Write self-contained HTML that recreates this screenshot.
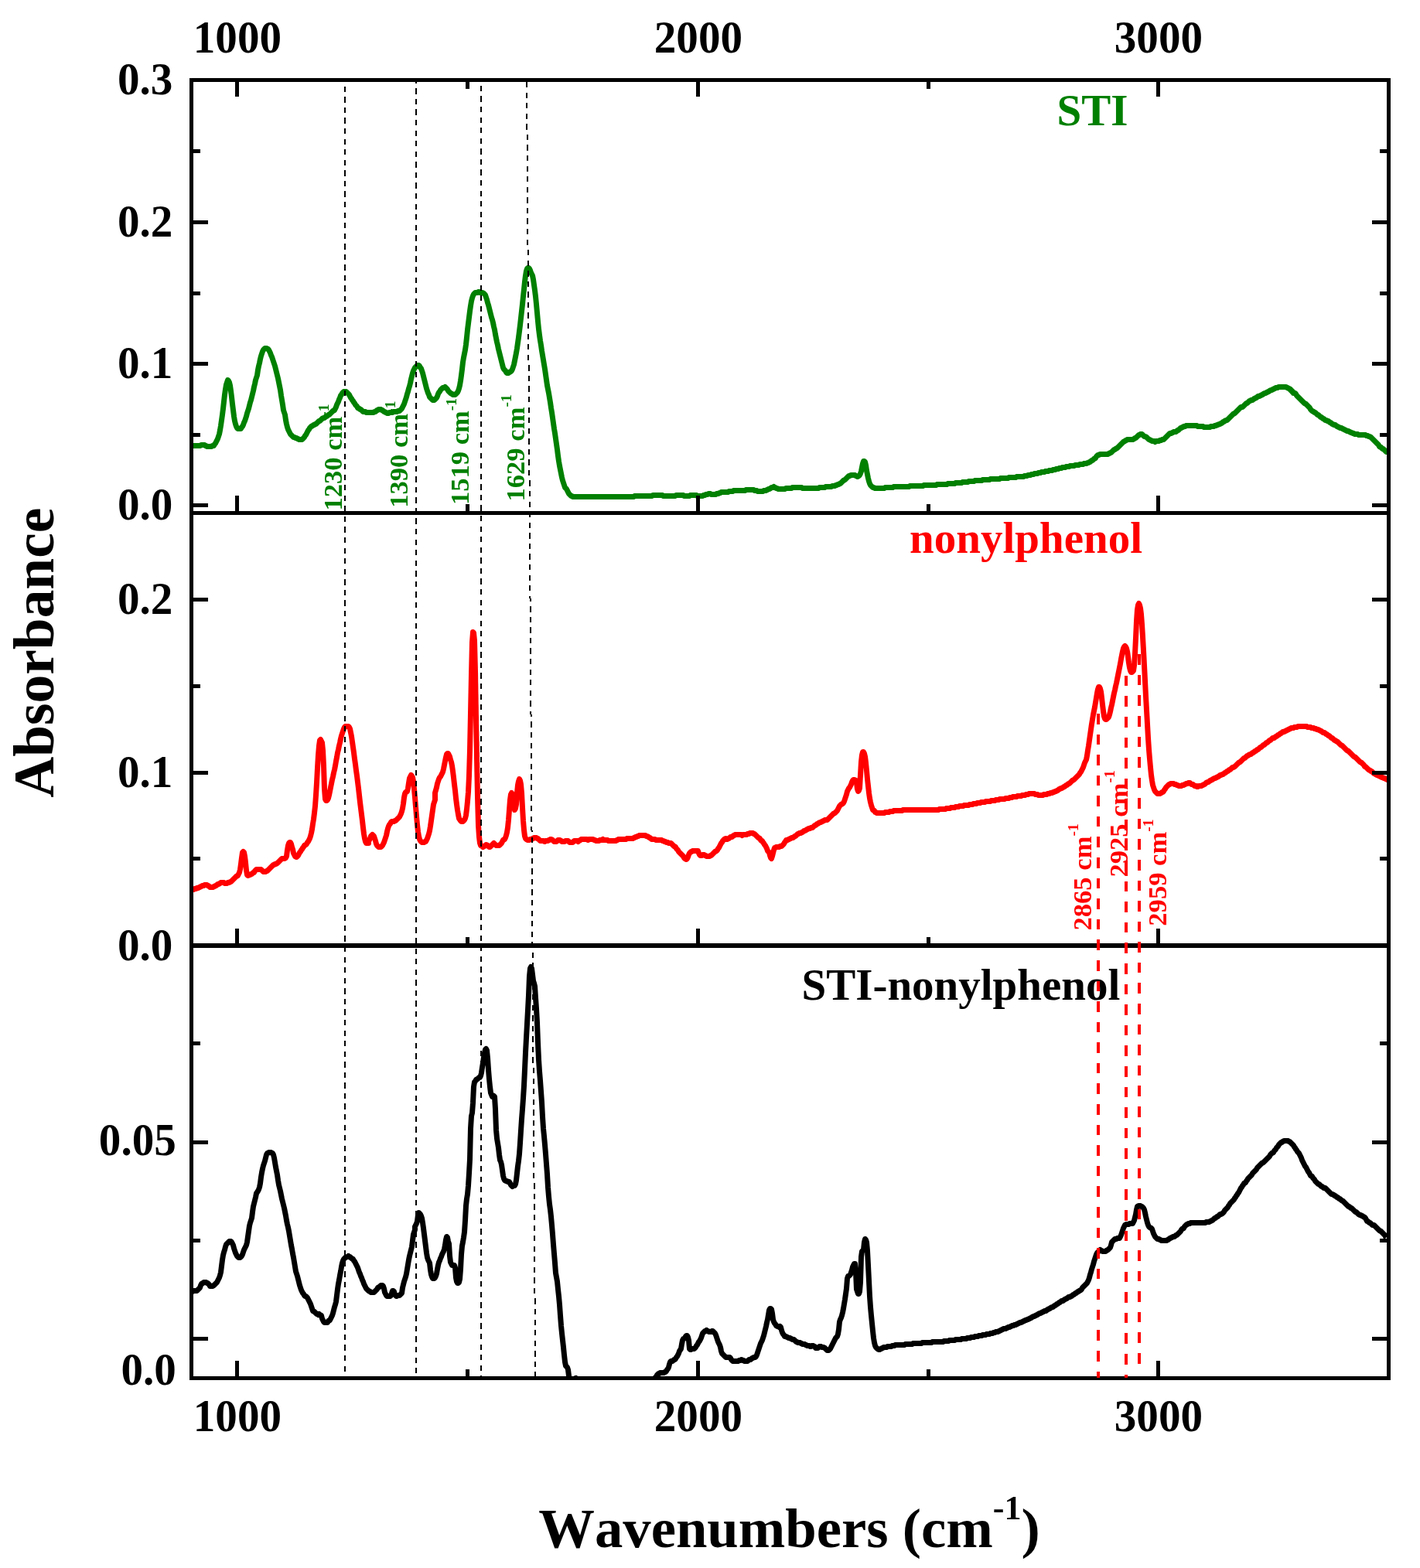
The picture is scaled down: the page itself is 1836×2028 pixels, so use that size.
<!DOCTYPE html>
<html lang="en"><head><meta charset="utf-8"><title>FTIR spectra: STI, nonylphenol, STI-nonylphenol</title>
<style>html,body{margin:0;padding:0;background:#fff}body{width:1836px;height:2028px;overflow:hidden}svg{display:block}text{font-family:"Liberation Serif","DejaVu Serif",serif;font-weight:bold;font-kerning:none;font-variant-ligatures:none}.tk{font-size:58px;fill:#000}.yl{text-anchor:end}.xl{text-anchor:middle}.pl{font-size:57px}.ann{font-size:34.6px}</style></head><body>
<svg width="1836" height="2028" viewBox="0 0 1836 2028" shape-rendering="crispEdges">
<rect x="0" y="0" width="1836" height="2028" fill="#fff"/>
<defs>
<clipPath id="c1"><rect x="247.5" y="103.5" width="1548.0" height="560.0"/></clipPath>
<clipPath id="c2"><rect x="247.5" y="663.5" width="1548.0" height="559.5"/></clipPath>
<clipPath id="c3"><rect x="247.5" y="1223.0" width="1548.0" height="559.5"/></clipPath>
<clipPath id="call"><rect x="247.5" y="103.5" width="1548.0" height="1679.0"/></clipPath>
</defs>
<path clip-path="url(#c1)" d="M248.5,576.5L249.5,576.5L250.5,576.5L251.5,576.5L252.5,576.5L253.5,576.5L254.5,576.5L255.5,576.5L256.5,576.5L257.5,576.5L258.5,576.5L260.5,575.5L261.5,575.5L262.5,575.5L263.5,575.5L264.5,575.5L265.5,576.5L266.5,576.5L267.5,577.5L269.5,577.5L270.5,577.5L271.5,577.5L272.5,577.5L273.5,577.5L274.5,576.5L276.5,576.5L277.5,574.5L278.5,573.5L279.5,571.5L280.5,569.5L281.5,567.5L282.5,564.5L283.5,561.5L284.5,556.5L285.5,550.5L286.5,543.5L287.5,536.5L288.5,528.5L289.5,519.5L290.5,510.5L291.5,503.5L292.5,497.5L293.5,494.5L294.5,491.5L295.5,492.5L296.5,494.5L297.5,498.5L298.5,505.5L299.5,513.5L300.5,522.5L301.5,530.5L302.5,538.5L303.5,544.5L304.5,548.5L305.5,551.5L306.5,553.5L307.5,554.5L308.5,554.5L310.5,554.5L311.5,554.5L312.5,552.5L313.5,551.5L314.5,549.5L315.5,546.5L316.5,544.5L317.5,541.5L318.5,538.5L319.5,534.5L320.5,531.5L321.5,528.5L322.5,524.5L323.5,520.5L324.5,517.5L325.5,513.5L326.5,509.5L327.5,505.5L328.5,500.5L329.5,496.5L330.5,491.5L332.5,485.5L333.5,478.5L334.5,473.5L335.5,469.5L336.5,464.5L337.5,460.5L338.5,457.5L339.5,454.5L340.5,452.5L341.5,451.5L342.5,450.5L343.5,450.5L344.5,450.5L346.5,451.5L347.5,452.5L348.5,454.5L349.5,456.5L350.5,459.5L351.5,461.5L352.5,464.5L353.5,467.5L354.5,470.5L355.5,473.5L356.5,477.5L357.5,481.5L358.5,485.5L359.5,489.5L360.5,494.5L361.5,499.5L362.5,504.5L363.5,511.5L364.5,517.5L365.5,523.5L366.5,530.5L368.5,536.5L369.5,543.5L370.5,548.5L371.5,552.5L372.5,555.5L373.5,557.5L374.5,559.5L375.5,561.5L376.5,562.5L377.5,563.5L378.5,564.5L379.5,565.5L380.5,565.5L382.5,566.5L383.5,566.5L384.5,567.5L385.5,567.5L386.5,568.5L387.5,568.5L388.5,568.5L390.5,568.5L391.5,567.5L392.5,566.5L393.5,565.5L394.5,563.5L395.5,562.5L396.5,560.5L397.5,558.5L398.5,556.5L399.5,555.5L400.5,553.5L401.5,552.5L402.5,551.5L404.5,550.5L405.5,549.5L406.5,549.5L407.5,548.5L408.5,548.5L409.5,547.5L410.5,546.5L411.5,545.5L412.5,544.5L413.5,544.5L414.5,543.5L415.5,542.5L416.5,541.5L418.5,540.5L419.5,540.5L420.5,539.5L421.5,538.5L422.5,538.5L423.5,537.5L424.5,536.5L425.5,536.5L426.5,535.5L427.5,534.5L428.5,533.5L429.5,532.5L430.5,531.5L432.5,530.5L433.5,528.5L434.5,526.5L435.5,523.5L436.5,521.5L437.5,519.5L438.5,516.5L439.5,514.5L440.5,511.5L441.5,510.5L442.5,508.5L443.5,507.5L444.5,506.5L446.5,506.5L447.5,506.5L448.5,507.5L449.5,508.5L450.5,509.5L451.5,510.5L452.5,512.5L453.5,514.5L454.5,515.5L455.5,517.5L456.5,518.5L457.5,520.5L458.5,521.5L459.5,523.5L460.5,524.5L461.5,525.5L462.5,527.5L464.5,528.5L465.5,529.5L466.5,529.5L467.5,530.5L468.5,531.5L469.5,532.5L470.5,532.5L472.5,532.5L473.5,533.5L474.5,533.5L475.5,533.5L476.5,533.5L477.5,533.5L478.5,533.5L479.5,533.5L480.5,533.5L481.5,533.5L482.5,533.5L484.5,532.5L485.5,532.5L486.5,531.5L487.5,530.5L488.5,530.5L489.5,529.5L490.5,529.5L492.5,529.5L493.5,530.5L494.5,530.5L495.5,531.5L496.5,532.5L497.5,532.5L498.5,533.5L499.5,533.5L500.5,534.5L502.5,534.5L503.5,533.5L504.5,533.5L505.5,533.5L506.5,533.5L507.5,533.5L508.5,532.5L509.5,532.5L510.5,532.5L511.5,532.5L512.5,532.5L513.5,532.5L514.5,531.5L516.5,531.5L517.5,530.5L518.5,529.5L519.5,528.5L520.5,526.5L521.5,524.5L522.5,522.5L523.5,519.5L524.5,516.5L525.5,513.5L526.5,509.5L527.5,506.5L528.5,502.5L529.5,499.5L530.5,495.5L531.5,490.5L532.5,486.5L533.5,482.5L534.5,479.5L535.5,477.5L536.5,475.5L538.5,473.5L539.5,472.5L540.5,472.5L541.5,472.5L542.5,473.5L543.5,475.5L544.5,476.5L545.5,479.5L546.5,482.5L547.5,486.5L548.5,490.5L549.5,494.5L550.5,498.5L551.5,502.5L552.5,505.5L553.5,508.5L554.5,510.5L555.5,513.5L556.5,514.5L558.5,516.5L559.5,517.5L560.5,517.5L561.5,517.5L562.5,516.5L563.5,515.5L564.5,514.5L565.5,512.5L566.5,509.5L567.5,507.5L568.5,506.5L569.5,504.5L570.5,503.5L571.5,502.5L572.5,501.5L574.5,501.5L575.5,500.5L576.5,501.5L577.5,502.5L578.5,503.5L579.5,505.5L580.5,506.5L581.5,507.5L582.5,508.5L584.5,509.5L585.5,510.5L586.5,510.5L587.5,510.5L588.5,510.5L589.5,509.5L590.5,508.5L591.5,507.5L592.5,505.5L593.5,502.5L594.5,498.5L595.5,492.5L596.5,485.5L597.5,477.5L598.5,468.5L599.5,462.5L600.5,457.5L601.5,452.5L602.5,445.5L603.5,436.5L604.5,426.5L605.5,418.5L606.5,410.5L607.5,402.5L608.5,395.5L609.5,389.5L610.5,385.5L611.5,382.5L612.5,380.5L613.5,379.5L614.5,378.5L616.5,378.5L617.5,378.5L618.5,377.5L619.5,377.5L620.5,378.5L621.5,378.5L622.5,378.5L623.5,378.5L625.5,379.5L626.5,380.5L627.5,381.5L628.5,384.5L629.5,387.5L630.5,391.5L631.5,394.5L632.5,398.5L633.5,402.5L634.5,406.5L635.5,410.5L636.5,413.5L637.5,417.5L638.5,422.5L639.5,426.5L640.5,432.5L641.5,437.5L642.5,442.5L643.5,446.5L644.5,451.5L645.5,455.5L646.5,459.5L647.5,463.5L648.5,467.5L649.5,471.5L650.5,475.5L651.5,477.5L653.5,479.5L654.5,481.5L655.5,482.5L656.5,482.5L657.5,482.5L658.5,481.5L660.5,480.5L661.5,479.5L662.5,477.5L663.5,474.5L664.5,471.5L665.5,466.5L666.5,461.5L667.5,456.5L668.5,450.5L669.5,443.5L670.5,436.5L671.5,428.5L672.5,420.5L673.5,411.5L674.5,402.5L675.5,393.5L676.5,383.5L677.5,374.5L678.5,364.5L679.5,356.5L680.5,350.5L681.5,347.5L682.5,346.5L683.5,346.5L684.5,347.5L685.5,349.5L686.5,352.5L688.5,356.5L689.5,361.5L690.5,368.5L691.5,375.5L692.5,383.5L693.5,393.5L694.5,404.5L695.5,415.5L696.5,425.5L697.5,433.5L698.5,440.5L699.5,446.5L700.5,453.5L701.5,459.5L702.5,465.5L703.5,471.5L704.5,477.5L705.5,484.5L706.5,491.5L707.5,498.5L708.5,503.5L709.5,508.5L710.5,514.5L711.5,520.5L712.5,527.5L713.5,533.5L714.5,540.5L715.5,547.5L716.5,554.5L717.5,560.5L718.5,567.5L719.5,574.5L720.5,581.5L721.5,589.5L722.5,596.5L723.5,602.5L724.5,607.5L725.5,612.5L726.5,617.5L727.5,621.5L728.5,624.5L729.5,627.5L730.5,630.5L732.5,632.5L733.5,634.5L734.5,636.5L735.5,638.5L736.5,639.5L737.5,640.5L738.5,641.5L739.5,641.5L740.5,642.5L742.5,642.5L743.5,642.5L744.5,642.5L745.5,642.5L746.5,642.5L747.5,642.5L748.5,642.5L749.5,642.5L750.5,642.5L751.5,642.5L752.5,642.5L754.5,642.5L755.5,642.5L756.5,642.5L757.5,642.5L758.5,642.5L759.5,642.5L760.5,642.5L761.5,642.5L762.5,642.5L764.5,642.5L765.5,642.5L766.5,642.5L767.5,642.5L768.5,642.5L769.5,642.5L770.5,642.5L771.5,642.5L772.5,642.5L773.5,642.5L775.5,642.5L776.5,642.5L777.5,642.5L778.5,642.5L779.5,642.5L780.5,642.5L781.5,642.5L782.5,642.5L783.5,642.5L784.5,642.5L785.5,642.5L786.5,642.5L787.5,642.5L788.5,642.5L789.5,642.5L790.5,642.5L791.5,642.5L792.5,642.5L793.5,642.5L794.5,642.5L795.5,642.5L796.5,642.5L797.5,642.5L798.5,642.5L799.5,642.5L800.5,642.5L801.5,642.5L802.5,642.5L803.5,642.5L804.5,642.5L805.5,642.5L806.5,642.5L807.5,642.5L808.5,642.5L809.5,642.5L810.5,642.5L811.5,642.5L812.5,642.5L813.5,642.5L814.5,642.5L815.5,642.5L816.5,642.5L817.5,642.5L818.5,642.5L819.5,642.5L820.5,641.5L821.5,641.5L822.5,641.5L823.5,641.5L824.5,641.5L825.5,641.5L826.5,641.5L827.5,641.5L828.5,641.5L829.5,641.5L830.5,641.5L831.5,641.5L832.5,641.5L833.5,641.5L834.5,641.5L836.5,641.5L837.5,641.5L838.5,641.5L839.5,641.5L840.5,641.5L841.5,641.5L842.5,641.5L844.5,640.5L845.5,640.5L846.5,640.5L847.5,640.5L848.5,640.5L849.5,640.5L850.5,640.5L851.5,640.5L852.5,640.5L854.5,640.5L855.5,640.5L856.5,640.5L857.5,641.5L858.5,641.5L859.5,641.5L860.5,641.5L861.5,641.5L862.5,641.5L863.5,641.5L865.5,641.5L866.5,641.5L867.5,641.5L868.5,641.5L869.5,641.5L870.5,641.5L871.5,641.5L872.5,641.5L874.5,640.5L875.5,640.5L876.5,640.5L877.5,640.5L878.5,640.5L879.5,640.5L880.5,640.5L881.5,640.5L883.5,640.5L884.5,641.5L885.5,641.5L886.5,641.5L887.5,641.5L888.5,641.5L889.5,641.5L890.5,641.5L891.5,641.5L892.5,640.5L893.5,640.5L895.5,640.5L896.5,640.5L897.5,640.5L898.5,640.5L899.5,640.5L900.5,640.5L901.5,641.5L902.5,641.5L903.5,641.5L904.5,641.5L906.5,641.5L907.5,641.5L908.5,641.5L909.5,640.5L910.5,640.5L911.5,640.5L912.5,639.5L913.5,639.5L914.5,639.5L916.5,638.5L917.5,638.5L918.5,638.5L919.5,639.5L920.5,639.5L921.5,639.5L922.5,639.5L924.5,639.5L925.5,639.5L926.5,638.5L927.5,638.5L928.5,638.5L930.5,637.5L931.5,637.5L932.5,636.5L933.5,636.5L934.5,636.5L935.5,636.5L937.5,636.5L938.5,636.5L939.5,636.5L940.5,636.5L941.5,636.5L942.5,635.5L943.5,635.5L944.5,635.5L946.5,635.5L947.5,635.5L948.5,634.5L949.5,634.5L950.5,634.5L951.5,634.5L952.5,634.5L953.5,634.5L954.5,634.5L956.5,634.5L957.5,634.5L958.5,634.5L959.5,634.5L960.5,634.5L961.5,634.5L962.5,634.5L963.5,634.5L964.5,633.5L965.5,633.5L966.5,633.5L968.5,633.5L969.5,633.5L970.5,633.5L971.5,633.5L972.5,633.5L973.5,633.5L974.5,633.5L975.5,634.5L976.5,634.5L978.5,634.5L979.5,635.5L980.5,635.5L981.5,635.5L982.5,635.5L983.5,635.5L984.5,635.5L985.5,635.5L986.5,635.5L987.5,634.5L988.5,634.5L990.5,634.5L991.5,633.5L992.5,633.5L993.5,632.5L994.5,632.5L996.5,631.5L997.5,630.5L998.5,630.5L999.5,630.5L1000.5,629.5L1001.5,630.5L1002.5,630.5L1003.5,631.5L1004.5,631.5L1006.5,632.5L1007.5,632.5L1008.5,632.5L1009.5,632.5L1010.5,632.5L1011.5,632.5L1012.5,632.5L1013.5,632.5L1014.5,632.5L1016.5,631.5L1017.5,631.5L1018.5,631.5L1019.5,631.5L1020.5,631.5L1021.5,631.5L1022.5,631.5L1023.5,631.5L1024.5,630.5L1026.5,630.5L1027.5,630.5L1028.5,630.5L1029.5,630.5L1030.5,630.5L1032.5,630.5L1033.5,630.5L1034.5,630.5L1035.5,630.5L1036.5,630.5L1037.5,631.5L1039.5,631.5L1040.5,631.5L1041.5,631.5L1042.5,631.5L1043.5,631.5L1044.5,631.5L1045.5,631.5L1046.5,631.5L1048.5,631.5L1049.5,631.5L1050.5,631.5L1051.5,631.5L1052.5,631.5L1053.5,631.5L1054.5,631.5L1055.5,631.5L1056.5,631.5L1057.5,631.5L1058.5,631.5L1059.5,630.5L1060.5,630.5L1061.5,630.5L1062.5,630.5L1063.5,630.5L1064.5,630.5L1066.5,630.5L1067.5,629.5L1068.5,629.5L1069.5,629.5L1070.5,629.5L1071.5,629.5L1072.5,629.5L1073.5,629.5L1074.5,629.5L1076.5,628.5L1077.5,628.5L1078.5,628.5L1079.5,628.5L1080.5,627.5L1081.5,627.5L1083.5,626.5L1084.5,626.5L1085.5,625.5L1086.5,625.5L1087.5,624.5L1088.5,623.5L1089.5,622.5L1090.5,621.5L1092.5,620.5L1093.5,619.5L1094.5,618.5L1095.5,617.5L1096.5,616.5L1097.5,615.5L1098.5,615.5L1100.5,614.5L1101.5,614.5L1102.5,614.5L1103.5,614.5L1104.5,614.5L1105.5,614.5L1106.5,615.5L1107.5,615.5L1108.5,616.5L1110.5,615.5L1111.5,614.5L1112.5,612.5L1113.5,609.5L1114.5,604.5L1115.5,599.5L1116.5,596.5L1117.5,596.5L1118.5,597.5L1119.5,601.5L1120.5,608.5L1121.5,613.5L1122.5,618.5L1123.5,622.5L1124.5,625.5L1125.5,627.5L1126.5,628.5L1127.5,629.5L1128.5,630.5L1129.5,630.5L1131.5,631.5L1132.5,631.5L1133.5,631.5L1134.5,631.5L1135.5,631.5L1136.5,631.5L1137.5,631.5L1138.5,631.5L1139.5,631.5L1140.5,631.5L1142.5,631.5L1143.5,631.5L1144.5,630.5L1145.5,630.5L1146.5,630.5L1147.5,630.5L1148.5,630.5L1150.5,630.5L1151.5,630.5L1152.5,630.5L1153.5,630.5L1154.5,630.5L1155.5,629.5L1156.5,629.5L1157.5,629.5L1158.5,629.5L1159.5,629.5L1160.5,629.5L1162.5,629.5L1163.5,629.5L1164.5,629.5L1165.5,629.5L1166.5,629.5L1167.5,629.5L1168.5,629.5L1170.5,629.5L1171.5,629.5L1172.5,629.5L1173.5,629.5L1174.5,629.5L1175.5,629.5L1176.5,628.5L1177.5,628.5L1178.5,628.5L1179.5,628.5L1180.5,628.5L1181.5,628.5L1182.5,628.5L1183.5,628.5L1184.5,628.5L1185.5,628.5L1186.5,628.5L1187.5,628.5L1188.5,628.5L1189.5,628.5L1190.5,628.5L1191.5,628.5L1192.5,628.5L1193.5,628.5L1194.5,627.5L1195.5,627.5L1196.5,627.5L1197.5,627.5L1198.5,627.5L1199.5,627.5L1200.5,627.5L1201.5,627.5L1202.5,627.5L1203.5,627.5L1204.5,627.5L1205.5,627.5L1206.5,627.5L1207.5,627.5L1208.5,627.5L1209.5,627.5L1210.5,627.5L1211.5,626.5L1212.5,626.5L1213.5,626.5L1214.5,626.5L1215.5,626.5L1216.5,626.5L1217.5,626.5L1218.5,626.5L1219.5,626.5L1220.5,626.5L1221.5,626.5L1222.5,626.5L1223.5,626.5L1224.5,626.5L1225.5,625.5L1226.5,625.5L1227.5,625.5L1228.5,625.5L1229.5,625.5L1230.5,625.5L1231.5,625.5L1232.5,625.5L1233.5,625.5L1234.5,625.5L1235.5,624.5L1236.5,624.5L1237.5,624.5L1238.5,624.5L1239.5,624.5L1240.5,624.5L1241.5,624.5L1242.5,624.5L1243.5,624.5L1244.5,623.5L1245.5,623.5L1246.5,623.5L1247.5,623.5L1248.5,623.5L1249.5,623.5L1250.5,623.5L1251.5,623.5L1252.5,622.5L1253.5,622.5L1254.5,622.5L1255.5,622.5L1256.5,622.5L1257.5,622.5L1258.5,622.5L1259.5,622.5L1260.5,621.5L1261.5,621.5L1262.5,621.5L1263.5,621.5L1264.5,621.5L1265.5,621.5L1266.5,621.5L1267.5,621.5L1268.5,621.5L1269.5,621.5L1270.5,620.5L1271.5,620.5L1272.5,620.5L1273.5,620.5L1274.5,620.5L1275.5,620.5L1276.5,620.5L1277.5,620.5L1278.5,620.5L1279.5,620.5L1280.5,619.5L1281.5,619.5L1282.5,619.5L1283.5,619.5L1284.5,619.5L1285.5,619.5L1286.5,619.5L1287.5,619.5L1288.5,619.5L1289.5,619.5L1290.5,619.5L1291.5,619.5L1292.5,619.5L1293.5,618.5L1294.5,618.5L1295.5,618.5L1296.5,618.5L1297.5,618.5L1298.5,618.5L1299.5,618.5L1300.5,618.5L1301.5,618.5L1302.5,618.5L1303.5,618.5L1304.5,617.5L1305.5,617.5L1306.5,617.5L1308.5,617.5L1309.5,617.5L1310.5,617.5L1311.5,617.5L1312.5,617.5L1313.5,617.5L1314.5,616.5L1315.5,616.5L1317.5,616.5L1318.5,616.5L1319.5,616.5L1320.5,616.5L1321.5,616.5L1322.5,616.5L1323.5,616.5L1324.5,615.5L1325.5,615.5L1326.5,615.5L1327.5,615.5L1329.5,614.5L1330.5,614.5L1331.5,614.5L1332.5,614.5L1333.5,613.5L1334.5,613.5L1335.5,613.5L1336.5,613.5L1337.5,612.5L1339.5,612.5L1340.5,612.5L1341.5,612.5L1342.5,611.5L1343.5,611.5L1345.5,611.5L1346.5,610.5L1347.5,610.5L1348.5,610.5L1350.5,610.5L1351.5,609.5L1352.5,609.5L1353.5,609.5L1355.5,609.5L1356.5,608.5L1357.5,608.5L1358.5,608.5L1360.5,608.5L1361.5,607.5L1362.5,607.5L1363.5,607.5L1364.5,607.5L1365.5,606.5L1366.5,606.5L1367.5,606.5L1368.5,606.5L1369.5,605.5L1370.5,605.5L1371.5,605.5L1372.5,605.5L1373.5,604.5L1374.5,604.5L1376.5,604.5L1377.5,604.5L1378.5,603.5L1379.5,603.5L1380.5,603.5L1381.5,603.5L1382.5,603.5L1383.5,602.5L1384.5,602.5L1385.5,602.5L1386.5,602.5L1387.5,602.5L1388.5,602.5L1390.5,601.5L1391.5,601.5L1392.5,601.5L1393.5,601.5L1394.5,601.5L1396.5,600.5L1397.5,600.5L1398.5,600.5L1399.5,600.5L1400.5,600.5L1401.5,599.5L1402.5,599.5L1403.5,599.5L1404.5,599.5L1406.5,598.5L1407.5,598.5L1408.5,597.5L1409.5,597.5L1410.5,596.5L1411.5,595.5L1412.5,595.5L1413.5,594.5L1414.5,593.5L1416.5,592.5L1417.5,590.5L1418.5,589.5L1419.5,588.5L1420.5,588.5L1422.5,587.5L1423.5,587.5L1424.5,587.5L1425.5,587.5L1426.5,587.5L1427.5,587.5L1428.5,587.5L1429.5,587.5L1430.5,587.5L1432.5,587.5L1433.5,586.5L1434.5,586.5L1435.5,585.5L1436.5,585.5L1437.5,584.5L1438.5,583.5L1439.5,582.5L1440.5,581.5L1441.5,581.5L1442.5,580.5L1444.5,579.5L1445.5,578.5L1446.5,577.5L1447.5,576.5L1448.5,575.5L1449.5,574.5L1450.5,573.5L1451.5,572.5L1452.5,571.5L1454.5,570.5L1455.5,569.5L1456.5,569.5L1457.5,568.5L1458.5,568.5L1459.5,568.5L1460.5,568.5L1461.5,568.5L1462.5,568.5L1463.5,568.5L1464.5,568.5L1466.5,567.5L1467.5,566.5L1468.5,566.5L1469.5,565.5L1470.5,564.5L1471.5,563.5L1472.5,562.5L1473.5,562.5L1474.5,561.5L1475.5,561.5L1476.5,561.5L1477.5,562.5L1478.5,563.5L1479.5,564.5L1480.5,564.5L1482.5,565.5L1483.5,566.5L1484.5,567.5L1485.5,568.5L1486.5,568.5L1487.5,569.5L1488.5,569.5L1489.5,570.5L1491.5,570.5L1492.5,570.5L1493.5,571.5L1494.5,570.5L1495.5,570.5L1496.5,570.5L1497.5,570.5L1498.5,570.5L1499.5,569.5L1500.5,569.5L1501.5,569.5L1502.5,568.5L1504.5,568.5L1505.5,567.5L1506.5,566.5L1507.5,565.5L1508.5,564.5L1509.5,563.5L1510.5,562.5L1511.5,561.5L1512.5,560.5L1514.5,560.5L1515.5,559.5L1516.5,559.5L1517.5,558.5L1518.5,558.5L1520.5,558.5L1521.5,557.5L1522.5,556.5L1523.5,556.5L1524.5,555.5L1525.5,554.5L1526.5,553.5L1527.5,553.5L1528.5,552.5L1529.5,552.5L1530.5,551.5L1532.5,551.5L1533.5,550.5L1534.5,550.5L1535.5,550.5L1536.5,550.5L1537.5,550.5L1538.5,550.5L1539.5,550.5L1540.5,550.5L1542.5,550.5L1543.5,550.5L1544.5,550.5L1545.5,550.5L1546.5,550.5L1547.5,550.5L1548.5,551.5L1549.5,551.5L1551.5,551.5L1552.5,551.5L1553.5,551.5L1554.5,551.5L1555.5,551.5L1556.5,552.5L1557.5,552.5L1558.5,552.5L1559.5,552.5L1560.5,552.5L1561.5,552.5L1562.5,552.5L1563.5,552.5L1564.5,552.5L1565.5,551.5L1566.5,551.5L1567.5,551.5L1569.5,551.5L1570.5,550.5L1571.5,550.5L1572.5,550.5L1573.5,549.5L1574.5,549.5L1576.5,548.5L1577.5,548.5L1578.5,547.5L1579.5,547.5L1580.5,546.5L1581.5,545.5L1582.5,545.5L1583.5,544.5L1585.5,543.5L1586.5,543.5L1587.5,542.5L1588.5,541.5L1589.5,540.5L1590.5,539.5L1591.5,538.5L1592.5,537.5L1593.5,536.5L1594.5,535.5L1596.5,534.5L1597.5,533.5L1598.5,532.5L1599.5,531.5L1600.5,530.5L1601.5,529.5L1602.5,528.5L1603.5,527.5L1604.5,526.5L1606.5,526.5L1607.5,525.5L1608.5,524.5L1609.5,523.5L1610.5,522.5L1611.5,521.5L1612.5,521.5L1613.5,520.5L1614.5,519.5L1615.5,518.5L1616.5,518.5L1617.5,517.5L1619.5,517.5L1620.5,516.5L1621.5,515.5L1622.5,515.5L1623.5,514.5L1624.5,514.5L1625.5,513.5L1626.5,512.5L1628.5,512.5L1629.5,511.5L1630.5,511.5L1631.5,510.5L1632.5,510.5L1633.5,509.5L1635.5,508.5L1636.5,508.5L1637.5,507.5L1638.5,507.5L1639.5,506.5L1640.5,506.5L1641.5,505.5L1643.5,504.5L1644.5,504.5L1645.5,503.5L1646.5,503.5L1647.5,502.5L1648.5,502.5L1649.5,501.5L1650.5,501.5L1651.5,501.5L1653.5,500.5L1654.5,500.5L1655.5,500.5L1656.5,500.5L1658.5,500.5L1660.5,500.5L1662.5,500.5L1664.5,501.5L1666.5,502.5L1668.5,503.5L1668.5,504.5L1670.5,505.5L1670.5,506.5L1672.5,507.5L1672.5,508.5L1674.5,508.5L1675.5,509.5L1676.5,511.5L1677.5,512.5L1678.5,513.5L1679.5,514.5L1680.5,515.5L1681.5,516.5L1682.5,517.5L1683.5,518.5L1684.5,519.5L1685.5,520.5L1686.5,521.5L1688.5,522.5L1689.5,523.5L1690.5,524.5L1691.5,525.5L1692.5,526.5L1693.5,527.5L1694.5,529.5L1695.5,530.5L1696.5,531.5L1698.5,532.5L1699.5,533.5L1700.5,533.5L1701.5,534.5L1702.5,535.5L1703.5,536.5L1704.5,536.5L1705.5,537.5L1706.5,538.5L1707.5,539.5L1708.5,539.5L1709.5,540.5L1710.5,541.5L1711.5,541.5L1712.5,542.5L1713.5,543.5L1714.5,543.5L1716.5,544.5L1717.5,544.5L1718.5,545.5L1719.5,546.5L1720.5,546.5L1721.5,547.5L1722.5,548.5L1723.5,548.5L1724.5,549.5L1726.5,549.5L1727.5,550.5L1728.5,551.5L1729.5,551.5L1730.5,552.5L1731.5,552.5L1732.5,553.5L1734.5,553.5L1735.5,554.5L1736.5,554.5L1737.5,555.5L1738.5,555.5L1739.5,556.5L1740.5,556.5L1741.5,557.5L1743.5,557.5L1744.5,558.5L1745.5,558.5L1746.5,559.5L1747.5,559.5L1749.5,560.5L1750.5,560.5L1751.5,561.5L1752.5,561.5L1753.5,561.5L1754.5,561.5L1755.5,561.5L1756.5,562.5L1758.5,562.5L1759.5,562.5L1760.5,562.5L1761.5,562.5L1762.5,562.5L1763.5,562.5L1765.5,562.5L1766.5,563.5L1767.5,563.5L1768.5,563.5L1769.5,564.5L1770.5,564.5L1772.5,565.5L1773.5,566.5L1774.5,567.5L1775.5,568.5L1776.5,569.5L1777.5,570.5L1778.5,571.5L1779.5,572.5L1780.5,573.5L1781.5,574.5L1782.5,575.5L1783.5,577.5L1785.5,578.5L1786.5,579.5L1787.5,580.5L1788.5,580.5L1789.5,581.5L1790.5,582.5L1791.5,583.5L1792.5,584.5L1794.5,584.5" fill="none" stroke="#008000" stroke-width="7" stroke-linejoin="round" stroke-linecap="butt" shape-rendering="geometricPrecision"/>
<path clip-path="url(#c2)" d="M248.5,1150.5L249.5,1150.5L250.5,1150.5L251.5,1149.5L252.5,1149.5L253.5,1149.5L254.5,1148.5L256.5,1148.5L257.5,1147.5L258.5,1147.5L259.5,1146.5L260.5,1146.5L261.5,1145.5L262.5,1145.5L263.5,1145.5L264.5,1144.5L265.5,1144.5L267.5,1144.5L268.5,1145.5L269.5,1145.5L270.5,1146.5L271.5,1147.5L272.5,1147.5L273.5,1147.5L275.5,1147.5L276.5,1146.5L277.5,1146.5L278.5,1145.5L279.5,1145.5L280.5,1144.5L281.5,1143.5L282.5,1143.5L284.5,1142.5L285.5,1141.5L286.5,1141.5L287.5,1141.5L288.5,1141.5L289.5,1141.5L290.5,1142.5L291.5,1142.5L292.5,1142.5L293.5,1142.5L294.5,1141.5L296.5,1141.5L297.5,1140.5L298.5,1140.5L299.5,1139.5L300.5,1138.5L301.5,1137.5L302.5,1136.5L303.5,1135.5L304.5,1134.5L305.5,1133.5L307.5,1132.5L308.5,1130.5L309.5,1128.5L310.5,1124.5L311.5,1117.5L312.5,1109.5L313.5,1102.5L314.5,1101.5L315.5,1102.5L316.5,1107.5L317.5,1115.5L318.5,1125.5L319.5,1131.5L320.5,1132.5L322.5,1131.5L323.5,1131.5L324.5,1130.5L325.5,1130.5L326.5,1129.5L327.5,1128.5L328.5,1128.5L329.5,1126.5L330.5,1125.5L331.5,1124.5L332.5,1124.5L333.5,1124.5L334.5,1124.5L336.5,1124.5L337.5,1124.5L338.5,1125.5L339.5,1126.5L340.5,1127.5L341.5,1127.5L342.5,1127.5L343.5,1127.5L344.5,1126.5L345.5,1126.5L346.5,1125.5L348.5,1123.5L349.5,1122.5L350.5,1121.5L351.5,1120.5L352.5,1119.5L353.5,1118.5L354.5,1118.5L355.5,1117.5L356.5,1117.5L358.5,1116.5L359.5,1115.5L360.5,1114.5L361.5,1113.5L362.5,1112.5L363.5,1111.5L364.5,1110.5L365.5,1110.5L366.5,1110.5L367.5,1110.5L369.5,1109.5L370.5,1107.5L371.5,1099.5L372.5,1093.5L373.5,1090.5L374.5,1089.5L375.5,1089.5L376.5,1091.5L377.5,1095.5L378.5,1098.5L379.5,1103.5L380.5,1105.5L381.5,1107.5L383.5,1108.5L384.5,1107.5L385.5,1106.5L386.5,1104.5L387.5,1102.5L388.5,1101.5L389.5,1099.5L390.5,1098.5L391.5,1096.5L392.5,1095.5L393.5,1093.5L395.5,1092.5L396.5,1091.5L397.5,1089.5L398.5,1088.5L399.5,1086.5L400.5,1084.5L401.5,1081.5L402.5,1077.5L403.5,1072.5L404.5,1065.5L405.5,1059.5L406.5,1051.5L407.5,1042.5L408.5,1028.5L409.5,1012.5L410.5,993.5L411.5,976.5L412.5,964.5L413.5,957.5L414.5,956.5L416.5,960.5L417.5,970.5L418.5,990.5L419.5,1020.5L420.5,1033.5L421.5,1035.5L422.5,1035.5L423.5,1034.5L424.5,1032.5L425.5,1028.5L426.5,1023.5L427.5,1018.5L428.5,1013.5L429.5,1008.5L430.5,1004.5L431.5,999.5L432.5,995.5L433.5,990.5L434.5,984.5L435.5,979.5L436.5,973.5L437.5,969.5L438.5,964.5L439.5,960.5L440.5,955.5L441.5,951.5L442.5,948.5L443.5,945.5L444.5,942.5L445.5,940.5L446.5,939.5L448.5,939.5L449.5,939.5L450.5,939.5L451.5,940.5L452.5,942.5L453.5,947.5L454.5,952.5L455.5,959.5L456.5,966.5L457.5,973.5L458.5,981.5L459.5,988.5L460.5,996.5L461.5,1003.5L462.5,1011.5L463.5,1019.5L464.5,1028.5L465.5,1037.5L466.5,1045.5L467.5,1053.5L468.5,1061.5L469.5,1070.5L470.5,1078.5L471.5,1084.5L472.5,1088.5L473.5,1090.5L474.5,1090.5L476.5,1090.5L476.5,1088.5L478.5,1084.5L479.5,1081.5L480.5,1080.5L481.5,1079.5L482.5,1080.5L483.5,1081.5L484.5,1084.5L485.5,1087.5L486.5,1091.5L487.5,1093.5L488.5,1094.5L489.5,1095.5L491.5,1095.5L492.5,1095.5L493.5,1094.5L494.5,1093.5L495.5,1091.5L496.5,1089.5L497.5,1086.5L498.5,1083.5L499.5,1080.5L500.5,1075.5L501.5,1071.5L502.5,1068.5L503.5,1066.5L504.5,1065.5L505.5,1063.5L506.5,1062.5L508.5,1062.5L509.5,1062.5L510.5,1061.5L511.5,1061.5L512.5,1060.5L513.5,1059.5L514.5,1058.5L516.5,1056.5L517.5,1054.5L518.5,1052.5L519.5,1049.5L520.5,1045.5L521.5,1039.5L522.5,1031.5L523.5,1026.5L524.5,1024.5L525.5,1024.5L526.5,1023.5L527.5,1019.5L528.5,1012.5L529.5,1006.5L531.5,1002.5L532.5,1003.5L533.5,1005.5L534.5,1010.5L535.5,1020.5L536.5,1031.5L537.5,1043.5L538.5,1055.5L539.5,1066.5L540.5,1075.5L541.5,1081.5L542.5,1085.5L543.5,1087.5L544.5,1088.5L545.5,1089.5L546.5,1089.5L547.5,1089.5L548.5,1089.5L549.5,1088.5L550.5,1088.5L551.5,1086.5L552.5,1084.5L553.5,1081.5L554.5,1078.5L555.5,1074.5L556.5,1068.5L557.5,1061.5L558.5,1054.5L559.5,1047.5L560.5,1040.5L562.5,1034.5L562.5,1025.5L564.5,1018.5L565.5,1013.5L566.5,1010.5L567.5,1007.5L568.5,1005.5L569.5,1004.5L570.5,1002.5L571.5,1000.5L572.5,998.5L573.5,994.5L574.5,989.5L575.5,984.5L576.5,979.5L577.5,975.5L578.5,974.5L579.5,974.5L580.5,976.5L581.5,978.5L582.5,982.5L583.5,985.5L584.5,990.5L585.5,997.5L586.5,1005.5L587.5,1014.5L588.5,1022.5L589.5,1032.5L590.5,1040.5L591.5,1047.5L592.5,1053.5L593.5,1058.5L595.5,1061.5L596.5,1062.5L597.5,1062.5L598.5,1062.5L599.5,1061.5L600.5,1060.5L601.5,1058.5L602.5,1054.5L603.5,1046.5L604.5,1036.5L605.5,1024.5L606.5,1003.5L607.5,970.5L608.5,922.5L609.5,872.5L610.5,830.5L611.5,817.5L612.5,818.5L613.5,828.5L614.5,868.5L615.5,928.5L616.5,980.5L617.5,1030.5L618.5,1067.5L619.5,1082.5L620.5,1090.5L621.5,1093.5L623.5,1094.5L624.5,1095.5L625.5,1094.5L626.5,1094.5L627.5,1093.5L628.5,1092.5L630.5,1093.5L631.5,1094.5L632.5,1095.5L633.5,1095.5L634.5,1094.5L635.5,1093.5L636.5,1092.5L637.5,1091.5L638.5,1090.5L639.5,1091.5L640.5,1092.5L641.5,1093.5L642.5,1093.5L644.5,1093.5L645.5,1093.5L646.5,1092.5L647.5,1091.5L648.5,1090.5L649.5,1088.5L650.5,1086.5L652.5,1085.5L653.5,1083.5L654.5,1080.5L655.5,1076.5L656.5,1070.5L657.5,1060.5L658.5,1047.5L659.5,1034.5L660.5,1027.5L661.5,1025.5L662.5,1027.5L663.5,1033.5L664.5,1042.5L665.5,1047.5L666.5,1045.5L667.5,1040.5L668.5,1025.5L669.5,1015.5L670.5,1010.5L671.5,1007.5L672.5,1009.5L673.5,1014.5L674.5,1025.5L675.5,1044.5L676.5,1061.5L677.5,1073.5L678.5,1081.5L679.5,1084.5L680.5,1085.5L682.5,1086.5L683.5,1086.5L684.5,1086.5L685.5,1085.5L686.5,1085.5L687.5,1085.5L688.5,1084.5L689.5,1084.5L690.5,1083.5L692.5,1083.5L693.5,1083.5L694.5,1084.5L695.5,1084.5L696.5,1085.5L697.5,1086.5L698.5,1087.5L699.5,1087.5L700.5,1087.5L701.5,1087.5L702.5,1087.5L704.5,1088.5L705.5,1087.5L706.5,1087.5L707.5,1087.5L708.5,1087.5L709.5,1086.5L710.5,1086.5L711.5,1085.5L712.5,1085.5L714.5,1086.5L715.5,1087.5L716.5,1088.5L717.5,1088.5L718.5,1088.5L719.5,1088.5L720.5,1087.5L721.5,1086.5L722.5,1086.5L723.5,1086.5L725.5,1087.5L726.5,1088.5L727.5,1088.5L728.5,1088.5L729.5,1088.5L731.5,1087.5L732.5,1087.5L733.5,1087.5L734.5,1087.5L735.5,1088.5L736.5,1089.5L737.5,1089.5L738.5,1089.5L740.5,1089.5L741.5,1088.5L742.5,1087.5L743.5,1087.5L744.5,1087.5L745.5,1087.5L746.5,1087.5L747.5,1088.5L748.5,1087.5L750.5,1086.5L751.5,1085.5L752.5,1085.5L753.5,1085.5L754.5,1085.5L755.5,1085.5L756.5,1085.5L757.5,1085.5L758.5,1085.5L760.5,1086.5L761.5,1085.5L762.5,1085.5L763.5,1085.5L764.5,1085.5L765.5,1085.5L766.5,1085.5L768.5,1086.5L769.5,1086.5L770.5,1087.5L771.5,1087.5L772.5,1087.5L774.5,1087.5L775.5,1086.5L776.5,1086.5L777.5,1086.5L778.5,1086.5L779.5,1085.5L780.5,1086.5L781.5,1086.5L782.5,1086.5L784.5,1086.5L785.5,1086.5L786.5,1087.5L787.5,1087.5L788.5,1087.5L789.5,1087.5L790.5,1087.5L791.5,1087.5L792.5,1087.5L794.5,1087.5L795.5,1087.5L796.5,1087.5L797.5,1086.5L798.5,1086.5L799.5,1085.5L800.5,1085.5L801.5,1085.5L802.5,1085.5L803.5,1085.5L804.5,1085.5L805.5,1085.5L807.5,1085.5L808.5,1085.5L809.5,1085.5L810.5,1084.5L811.5,1084.5L812.5,1084.5L813.5,1084.5L814.5,1084.5L815.5,1084.5L817.5,1084.5L818.5,1084.5L819.5,1083.5L820.5,1083.5L821.5,1082.5L822.5,1082.5L824.5,1081.5L825.5,1081.5L826.5,1080.5L827.5,1080.5L828.5,1080.5L829.5,1080.5L830.5,1080.5L831.5,1080.5L832.5,1080.5L833.5,1080.5L834.5,1080.5L835.5,1081.5L836.5,1081.5L838.5,1082.5L839.5,1083.5L840.5,1083.5L841.5,1084.5L842.5,1085.5L843.5,1085.5L844.5,1085.5L845.5,1085.5L846.5,1085.5L848.5,1086.5L849.5,1086.5L850.5,1086.5L851.5,1086.5L852.5,1086.5L853.5,1086.5L854.5,1086.5L855.5,1086.5L856.5,1087.5L857.5,1087.5L859.5,1088.5L860.5,1088.5L861.5,1089.5L862.5,1089.5L863.5,1089.5L864.5,1090.5L865.5,1090.5L866.5,1090.5L867.5,1090.5L868.5,1091.5L869.5,1092.5L870.5,1093.5L871.5,1094.5L873.5,1095.5L874.5,1097.5L875.5,1098.5L876.5,1099.5L877.5,1101.5L878.5,1102.5L879.5,1103.5L880.5,1104.5L881.5,1105.5L882.5,1106.5L883.5,1107.5L884.5,1109.5L885.5,1110.5L887.5,1111.5L888.5,1110.5L889.5,1108.5L890.5,1105.5L891.5,1103.5L892.5,1102.5L893.5,1101.5L894.5,1101.5L895.5,1100.5L896.5,1100.5L897.5,1100.5L899.5,1100.5L900.5,1100.5L901.5,1100.5L902.5,1100.5L903.5,1103.5L904.5,1105.5L905.5,1106.5L907.5,1106.5L908.5,1105.5L909.5,1105.5L910.5,1105.5L911.5,1106.5L912.5,1106.5L913.5,1107.5L915.5,1107.5L916.5,1107.5L917.5,1107.5L918.5,1106.5L919.5,1106.5L920.5,1105.5L921.5,1104.5L922.5,1103.5L923.5,1102.5L924.5,1101.5L926.5,1100.5L927.5,1099.5L928.5,1097.5L929.5,1096.5L930.5,1094.5L931.5,1092.5L932.5,1090.5L933.5,1089.5L934.5,1087.5L935.5,1086.5L936.5,1085.5L938.5,1084.5L939.5,1085.5L940.5,1085.5L941.5,1084.5L942.5,1084.5L943.5,1083.5L944.5,1082.5L946.5,1082.5L947.5,1081.5L948.5,1080.5L949.5,1080.5L950.5,1079.5L951.5,1079.5L952.5,1079.5L954.5,1079.5L955.5,1079.5L956.5,1079.5L957.5,1079.5L958.5,1079.5L959.5,1080.5L960.5,1079.5L961.5,1079.5L962.5,1079.5L963.5,1079.5L965.5,1079.5L966.5,1078.5L967.5,1078.5L968.5,1078.5L969.5,1077.5L970.5,1077.5L971.5,1077.5L973.5,1077.5L974.5,1078.5L975.5,1078.5L976.5,1079.5L977.5,1080.5L978.5,1081.5L979.5,1082.5L980.5,1083.5L982.5,1084.5L983.5,1086.5L984.5,1087.5L985.5,1087.5L986.5,1089.5L987.5,1090.5L988.5,1092.5L989.5,1093.5L990.5,1095.5L991.5,1097.5L992.5,1100.5L994.5,1102.5L995.5,1106.5L996.5,1109.5L997.5,1110.5L998.5,1107.5L999.5,1103.5L1000.5,1099.5L1001.5,1096.5L1002.5,1096.5L1003.5,1095.5L1004.5,1095.5L1006.5,1095.5L1007.5,1095.5L1008.5,1094.5L1009.5,1094.5L1010.5,1094.5L1011.5,1093.5L1012.5,1092.5L1013.5,1091.5L1014.5,1089.5L1015.5,1088.5L1016.5,1086.5L1018.5,1086.5L1019.5,1085.5L1020.5,1085.5L1021.5,1084.5L1022.5,1084.5L1023.5,1083.5L1025.5,1083.5L1026.5,1082.5L1027.5,1081.5L1028.5,1081.5L1029.5,1080.5L1030.5,1079.5L1031.5,1078.5L1032.5,1078.5L1033.5,1077.5L1035.5,1077.5L1036.5,1076.5L1037.5,1076.5L1038.5,1075.5L1039.5,1074.5L1040.5,1074.5L1042.5,1073.5L1043.5,1072.5L1044.5,1072.5L1045.5,1071.5L1046.5,1071.5L1047.5,1071.5L1048.5,1070.5L1050.5,1070.5L1051.5,1069.5L1052.5,1068.5L1053.5,1067.5L1054.5,1067.5L1055.5,1066.5L1056.5,1065.5L1057.5,1065.5L1058.5,1064.5L1060.5,1063.5L1061.5,1063.5L1062.5,1062.5L1063.5,1062.5L1064.5,1061.5L1065.5,1061.5L1066.5,1060.5L1068.5,1060.5L1069.5,1060.5L1070.5,1059.5L1071.5,1058.5L1072.5,1057.5L1073.5,1056.5L1074.5,1055.5L1075.5,1054.5L1076.5,1053.5L1077.5,1052.5L1079.5,1051.5L1080.5,1050.5L1081.5,1049.5L1082.5,1048.5L1083.5,1046.5L1084.5,1044.5L1085.5,1042.5L1086.5,1041.5L1087.5,1040.5L1089.5,1039.5L1090.5,1038.5L1091.5,1036.5L1092.5,1033.5L1093.5,1030.5L1094.5,1027.5L1095.5,1023.5L1096.5,1021.5L1097.5,1019.5L1098.5,1018.5L1099.5,1016.5L1100.5,1014.5L1101.5,1011.5L1102.5,1009.5L1103.5,1008.5L1104.5,1008.5L1106.5,1009.5L1107.5,1012.5L1108.5,1020.5L1109.5,1023.5L1110.5,1022.5L1111.5,1019.5L1112.5,1002.5L1113.5,985.5L1114.5,976.5L1115.5,972.5L1116.5,972.5L1117.5,974.5L1118.5,978.5L1119.5,986.5L1120.5,996.5L1121.5,1007.5L1122.5,1016.5L1123.5,1025.5L1124.5,1032.5L1125.5,1037.5L1126.5,1041.5L1127.5,1044.5L1128.5,1047.5L1130.5,1048.5L1131.5,1050.5L1132.5,1050.5L1133.5,1051.5L1134.5,1051.5L1135.5,1051.5L1136.5,1051.5L1137.5,1051.5L1138.5,1051.5L1140.5,1051.5L1141.5,1051.5L1142.5,1051.5L1143.5,1051.5L1144.5,1050.5L1145.5,1050.5L1146.5,1050.5L1147.5,1050.5L1148.5,1050.5L1149.5,1050.5L1150.5,1049.5L1152.5,1049.5L1153.5,1049.5L1154.5,1049.5L1155.5,1048.5L1156.5,1048.5L1157.5,1048.5L1158.5,1048.5L1160.5,1048.5L1161.5,1048.5L1162.5,1048.5L1163.5,1048.5L1164.5,1048.5L1165.5,1048.5L1166.5,1048.5L1167.5,1047.5L1168.5,1047.5L1169.5,1047.5L1170.5,1047.5L1172.5,1047.5L1173.5,1047.5L1174.5,1047.5L1175.5,1047.5L1176.5,1047.5L1177.5,1047.5L1178.5,1047.5L1179.5,1047.5L1180.5,1047.5L1181.5,1047.5L1182.5,1047.5L1183.5,1047.5L1184.5,1047.5L1185.5,1047.5L1186.5,1047.5L1187.5,1047.5L1188.5,1047.5L1189.5,1047.5L1190.5,1047.5L1191.5,1047.5L1192.5,1047.5L1193.5,1047.5L1195.5,1047.5L1196.5,1047.5L1197.5,1047.5L1198.5,1047.5L1199.5,1047.5L1200.5,1047.5L1202.5,1047.5L1203.5,1047.5L1204.5,1047.5L1205.5,1047.5L1206.5,1047.5L1207.5,1047.5L1208.5,1047.5L1209.5,1047.5L1211.5,1047.5L1212.5,1047.5L1213.5,1047.5L1214.5,1046.5L1215.5,1046.5L1216.5,1046.5L1217.5,1046.5L1219.5,1046.5L1220.5,1046.5L1221.5,1046.5L1222.5,1046.5L1223.5,1045.5L1224.5,1045.5L1226.5,1045.5L1227.5,1045.5L1228.5,1045.5L1229.5,1044.5L1230.5,1044.5L1232.5,1044.5L1233.5,1044.5L1234.5,1044.5L1235.5,1043.5L1236.5,1043.5L1237.5,1043.5L1238.5,1043.5L1239.5,1043.5L1240.5,1042.5L1241.5,1042.5L1242.5,1042.5L1243.5,1042.5L1244.5,1042.5L1245.5,1042.5L1246.5,1041.5L1248.5,1041.5L1249.5,1041.5L1250.5,1041.5L1251.5,1041.5L1252.5,1041.5L1253.5,1040.5L1254.5,1040.5L1255.5,1040.5L1256.5,1040.5L1257.5,1040.5L1258.5,1039.5L1260.5,1039.5L1261.5,1039.5L1262.5,1039.5L1263.5,1038.5L1264.5,1038.5L1266.5,1038.5L1267.5,1038.5L1268.5,1037.5L1269.5,1037.5L1271.5,1037.5L1272.5,1037.5L1273.5,1037.5L1274.5,1036.5L1275.5,1036.5L1276.5,1036.5L1277.5,1036.5L1278.5,1036.5L1279.5,1036.5L1280.5,1036.5L1281.5,1035.5L1282.5,1035.5L1284.5,1035.5L1285.5,1035.5L1286.5,1035.5L1287.5,1034.5L1288.5,1034.5L1289.5,1034.5L1290.5,1034.5L1291.5,1034.5L1292.5,1033.5L1294.5,1033.5L1295.5,1033.5L1296.5,1033.5L1297.5,1033.5L1298.5,1033.5L1300.5,1032.5L1301.5,1032.5L1302.5,1032.5L1303.5,1032.5L1304.5,1032.5L1305.5,1031.5L1306.5,1031.5L1307.5,1031.5L1308.5,1031.5L1309.5,1030.5L1310.5,1030.5L1311.5,1030.5L1313.5,1030.5L1314.5,1030.5L1315.5,1029.5L1316.5,1029.5L1317.5,1029.5L1318.5,1029.5L1319.5,1029.5L1320.5,1029.5L1321.5,1028.5L1322.5,1028.5L1323.5,1028.5L1324.5,1028.5L1325.5,1028.5L1326.5,1027.5L1327.5,1027.5L1328.5,1027.5L1329.5,1027.5L1330.5,1026.5L1332.5,1026.5L1333.5,1026.5L1334.5,1026.5L1335.5,1026.5L1336.5,1026.5L1337.5,1026.5L1338.5,1027.5L1340.5,1027.5L1341.5,1027.5L1342.5,1028.5L1343.5,1028.5L1344.5,1028.5L1345.5,1028.5L1347.5,1028.5L1348.5,1028.5L1349.5,1027.5L1350.5,1027.5L1351.5,1027.5L1352.5,1027.5L1353.5,1027.5L1354.5,1026.5L1355.5,1026.5L1356.5,1026.5L1358.5,1025.5L1359.5,1025.5L1360.5,1025.5L1361.5,1024.5L1362.5,1024.5L1364.5,1023.5L1365.5,1023.5L1366.5,1022.5L1367.5,1022.5L1368.5,1021.5L1369.5,1020.5L1370.5,1020.5L1371.5,1019.5L1372.5,1019.5L1374.5,1018.5L1375.5,1017.5L1376.5,1017.5L1377.5,1016.5L1378.5,1015.5L1379.5,1015.5L1380.5,1014.5L1381.5,1013.5L1382.5,1013.5L1383.5,1012.5L1384.5,1011.5L1385.5,1010.5L1386.5,1009.5L1388.5,1008.5L1389.5,1007.5L1390.5,1006.5L1391.5,1005.5L1392.5,1004.5L1393.5,1003.5L1394.5,1002.5L1395.5,1001.5L1396.5,999.5L1397.5,998.5L1398.5,996.5L1399.5,994.5L1400.5,992.5L1401.5,989.5L1402.5,986.5L1404.5,982.5L1405.5,977.5L1406.5,970.5L1407.5,964.5L1408.5,957.5L1409.5,950.5L1410.5,943.5L1411.5,936.5L1412.5,930.5L1413.5,924.5L1414.5,919.5L1415.5,914.5L1416.5,908.5L1417.5,902.5L1418.5,896.5L1419.5,891.5L1420.5,888.5L1421.5,888.5L1422.5,890.5L1423.5,894.5L1424.5,902.5L1425.5,911.5L1426.5,919.5L1427.5,926.5L1428.5,929.5L1429.5,930.5L1430.5,930.5L1431.5,929.5L1433.5,927.5L1434.5,924.5L1435.5,920.5L1436.5,915.5L1437.5,911.5L1438.5,906.5L1439.5,901.5L1440.5,896.5L1441.5,892.5L1442.5,887.5L1443.5,883.5L1444.5,878.5L1445.5,873.5L1446.5,868.5L1447.5,863.5L1448.5,858.5L1449.5,852.5L1450.5,847.5L1451.5,842.5L1452.5,838.5L1453.5,836.5L1454.5,835.5L1455.5,836.5L1456.5,838.5L1457.5,842.5L1458.5,849.5L1459.5,857.5L1460.5,863.5L1461.5,867.5L1462.5,869.5L1463.5,869.5L1465.5,867.5L1466.5,860.5L1467.5,845.5L1468.5,825.5L1469.5,803.5L1470.5,788.5L1471.5,782.5L1472.5,780.5L1473.5,782.5L1474.5,786.5L1475.5,794.5L1476.5,807.5L1477.5,823.5L1478.5,841.5L1479.5,860.5L1480.5,880.5L1481.5,900.5L1482.5,918.5L1483.5,936.5L1484.5,954.5L1485.5,969.5L1486.5,981.5L1487.5,992.5L1488.5,1002.5L1489.5,1009.5L1490.5,1015.5L1491.5,1018.5L1492.5,1021.5L1493.5,1023.5L1494.5,1024.5L1495.5,1025.5L1496.5,1026.5L1497.5,1026.5L1498.5,1026.5L1499.5,1026.5L1501.5,1025.5L1502.5,1024.5L1503.5,1024.5L1504.5,1023.5L1505.5,1021.5L1506.5,1020.5L1507.5,1018.5L1508.5,1017.5L1510.5,1015.5L1511.5,1014.5L1512.5,1014.5L1513.5,1013.5L1514.5,1013.5L1515.5,1013.5L1516.5,1013.5L1517.5,1013.5L1518.5,1014.5L1519.5,1014.5L1520.5,1014.5L1521.5,1015.5L1522.5,1015.5L1524.5,1016.5L1525.5,1016.5L1526.5,1016.5L1527.5,1016.5L1528.5,1015.5L1529.5,1015.5L1530.5,1015.5L1531.5,1014.5L1532.5,1014.5L1533.5,1013.5L1535.5,1013.5L1536.5,1012.5L1537.5,1012.5L1538.5,1012.5L1539.5,1013.5L1540.5,1014.5L1542.5,1014.5L1543.5,1015.5L1544.5,1016.5L1545.5,1016.5L1546.5,1016.5L1547.5,1017.5L1548.5,1017.5L1550.5,1016.5L1551.5,1016.5L1552.5,1016.5L1553.5,1016.5L1554.5,1015.5L1555.5,1015.5L1556.5,1014.5L1557.5,1014.5L1558.5,1013.5L1559.5,1012.5L1561.5,1011.5L1562.5,1011.5L1563.5,1010.5L1564.5,1009.5L1565.5,1009.5L1566.5,1008.5L1567.5,1008.5L1568.5,1007.5L1570.5,1006.5L1571.5,1006.5L1572.5,1005.5L1573.5,1005.5L1574.5,1004.5L1575.5,1004.5L1576.5,1003.5L1577.5,1002.5L1578.5,1002.5L1580.5,1001.5L1581.5,1001.5L1582.5,1000.5L1583.5,999.5L1584.5,999.5L1585.5,998.5L1586.5,997.5L1587.5,997.5L1588.5,996.5L1589.5,995.5L1590.5,995.5L1591.5,994.5L1592.5,993.5L1593.5,992.5L1594.5,992.5L1596.5,991.5L1597.5,990.5L1598.5,989.5L1599.5,988.5L1600.5,987.5L1601.5,986.5L1603.5,985.5L1604.5,984.5L1605.5,983.5L1606.5,982.5L1607.5,981.5L1608.5,980.5L1609.5,980.5L1610.5,979.5L1611.5,978.5L1612.5,977.5L1613.5,977.5L1614.5,976.5L1616.5,975.5L1617.5,975.5L1618.5,974.5L1619.5,973.5L1620.5,973.5L1621.5,972.5L1622.5,971.5L1623.5,971.5L1624.5,970.5L1625.5,969.5L1626.5,969.5L1627.5,968.5L1628.5,967.5L1629.5,966.5L1630.5,966.5L1631.5,965.5L1632.5,964.5L1633.5,963.5L1634.5,963.5L1635.5,962.5L1636.5,961.5L1637.5,960.5L1638.5,960.5L1639.5,959.5L1640.5,958.5L1641.5,957.5L1642.5,957.5L1643.5,956.5L1644.5,955.5L1645.5,954.5L1647.5,954.5L1648.5,953.5L1649.5,952.5L1650.5,952.5L1651.5,951.5L1652.5,950.5L1653.5,950.5L1654.5,949.5L1655.5,948.5L1656.5,948.5L1657.5,947.5L1658.5,946.5L1660.5,946.5L1661.5,945.5L1662.5,945.5L1663.5,944.5L1664.5,944.5L1665.5,943.5L1666.5,943.5L1667.5,942.5L1668.5,942.5L1669.5,941.5L1671.5,941.5L1672.5,941.5L1673.5,940.5L1674.5,940.5L1675.5,940.5L1676.5,940.5L1678.5,939.5L1679.5,939.5L1681.5,939.5L1682.5,939.5L1684.5,939.5L1685.5,939.5L1686.5,939.5L1688.5,939.5L1689.5,939.5L1690.5,940.5L1692.5,940.5L1694.5,940.5L1695.5,941.5L1696.5,941.5L1698.5,941.5L1699.5,942.5L1700.5,942.5L1701.5,942.5L1702.5,943.5L1704.5,943.5L1705.5,944.5L1706.5,944.5L1707.5,945.5L1708.5,945.5L1709.5,946.5L1710.5,947.5L1712.5,947.5L1713.5,948.5L1714.5,949.5L1715.5,949.5L1716.5,950.5L1717.5,951.5L1718.5,951.5L1719.5,952.5L1720.5,953.5L1721.5,954.5L1722.5,954.5L1723.5,955.5L1724.5,956.5L1725.5,957.5L1726.5,957.5L1727.5,958.5L1729.5,959.5L1730.5,960.5L1731.5,961.5L1732.5,962.5L1733.5,963.5L1735.5,964.5L1736.5,965.5L1737.5,966.5L1738.5,967.5L1739.5,968.5L1740.5,969.5L1741.5,970.5L1743.5,971.5L1744.5,972.5L1745.5,973.5L1746.5,974.5L1747.5,975.5L1748.5,976.5L1749.5,977.5L1750.5,978.5L1752.5,979.5L1753.5,980.5L1754.5,981.5L1755.5,982.5L1756.5,983.5L1757.5,984.5L1758.5,985.5L1760.5,986.5L1761.5,987.5L1762.5,988.5L1763.5,989.5L1764.5,991.5L1765.5,991.5L1766.5,992.5L1767.5,993.5L1768.5,994.5L1769.5,995.5L1771.5,996.5L1772.5,997.5L1773.5,997.5L1774.5,998.5L1775.5,999.5L1776.5,1000.5L1777.5,1000.5L1778.5,1001.5L1780.5,1002.5L1781.5,1002.5L1782.5,1003.5L1783.5,1003.5L1784.5,1004.5L1785.5,1004.5L1786.5,1005.5L1787.5,1005.5L1789.5,1006.5L1790.5,1006.5L1791.5,1007.5L1792.5,1007.5L1793.5,1008.5L1794.5,1008.5" fill="none" stroke="#ff0000" stroke-width="7" stroke-linejoin="round" stroke-linecap="butt" shape-rendering="geometricPrecision"/>
<path clip-path="url(#c3)" d="M248.5,1670.5L250.5,1669.5L251.5,1669.5L252.5,1669.5L253.5,1669.5L254.5,1669.5L255.5,1668.5L256.5,1667.5L257.5,1666.5L258.5,1665.5L259.5,1662.5L260.5,1660.5L262.5,1659.5L263.5,1658.5L264.5,1658.5L265.5,1658.5L266.5,1658.5L267.5,1659.5L268.5,1659.5L269.5,1660.5L270.5,1661.5L271.5,1663.5L272.5,1663.5L273.5,1663.5L274.5,1663.5L276.5,1662.5L277.5,1661.5L278.5,1660.5L279.5,1659.5L280.5,1658.5L281.5,1656.5L282.5,1654.5L283.5,1652.5L284.5,1649.5L285.5,1645.5L286.5,1637.5L287.5,1629.5L288.5,1623.5L289.5,1619.5L290.5,1616.5L291.5,1612.5L292.5,1609.5L294.5,1607.5L295.5,1606.5L296.5,1605.5L297.5,1605.5L298.5,1605.5L299.5,1606.5L300.5,1608.5L301.5,1610.5L302.5,1614.5L303.5,1617.5L304.5,1620.5L305.5,1622.5L306.5,1624.5L307.5,1625.5L308.5,1626.5L310.5,1626.5L311.5,1625.5L312.5,1624.5L313.5,1622.5L314.5,1619.5L315.5,1616.5L316.5,1614.5L317.5,1612.5L318.5,1610.5L319.5,1606.5L320.5,1599.5L321.5,1592.5L322.5,1585.5L323.5,1581.5L324.5,1578.5L325.5,1575.5L326.5,1567.5L327.5,1560.5L328.5,1556.5L329.5,1552.5L330.5,1548.5L331.5,1543.5L333.5,1540.5L334.5,1538.5L335.5,1535.5L336.5,1530.5L337.5,1522.5L338.5,1516.5L339.5,1511.5L340.5,1507.5L341.5,1504.5L342.5,1501.5L343.5,1497.5L344.5,1493.5L345.5,1491.5L346.5,1491.5L347.5,1490.5L348.5,1490.5L350.5,1490.5L351.5,1491.5L352.5,1491.5L353.5,1493.5L354.5,1497.5L355.5,1503.5L356.5,1509.5L357.5,1514.5L358.5,1519.5L359.5,1526.5L360.5,1532.5L361.5,1536.5L362.5,1540.5L363.5,1545.5L364.5,1550.5L365.5,1554.5L366.5,1558.5L367.5,1562.5L368.5,1567.5L369.5,1572.5L370.5,1578.5L371.5,1583.5L372.5,1587.5L373.5,1592.5L374.5,1598.5L375.5,1604.5L376.5,1610.5L377.5,1615.5L378.5,1621.5L379.5,1626.5L380.5,1632.5L381.5,1638.5L382.5,1644.5L384.5,1650.5L385.5,1654.5L386.5,1658.5L387.5,1662.5L388.5,1665.5L389.5,1668.5L390.5,1670.5L391.5,1672.5L392.5,1673.5L393.5,1675.5L394.5,1676.5L395.5,1676.5L396.5,1677.5L397.5,1678.5L398.5,1680.5L399.5,1682.5L400.5,1684.5L401.5,1686.5L402.5,1689.5L403.5,1692.5L404.5,1695.5L406.5,1696.5L407.5,1697.5L408.5,1698.5L409.5,1699.5L410.5,1699.5L411.5,1700.5L412.5,1699.5L413.5,1700.5L415.5,1701.5L416.5,1705.5L417.5,1707.5L418.5,1709.5L419.5,1710.5L420.5,1710.5L421.5,1710.5L422.5,1710.5L423.5,1710.5L424.5,1708.5L426.5,1707.5L427.5,1705.5L428.5,1703.5L429.5,1701.5L430.5,1698.5L431.5,1694.5L432.5,1690.5L433.5,1687.5L434.5,1683.5L435.5,1675.5L436.5,1667.5L437.5,1660.5L438.5,1655.5L439.5,1649.5L440.5,1644.5L441.5,1638.5L442.5,1633.5L443.5,1630.5L444.5,1628.5L445.5,1627.5L446.5,1626.5L448.5,1625.5L449.5,1625.5L450.5,1624.5L451.5,1625.5L452.5,1625.5L453.5,1626.5L454.5,1627.5L456.5,1628.5L457.5,1630.5L458.5,1631.5L459.5,1633.5L460.5,1635.5L461.5,1637.5L462.5,1639.5L463.5,1642.5L464.5,1645.5L465.5,1647.5L466.5,1650.5L467.5,1652.5L468.5,1655.5L469.5,1657.5L470.5,1660.5L471.5,1662.5L472.5,1664.5L473.5,1666.5L474.5,1667.5L475.5,1668.5L476.5,1669.5L478.5,1670.5L479.5,1671.5L480.5,1671.5L481.5,1671.5L482.5,1671.5L483.5,1671.5L484.5,1670.5L485.5,1669.5L486.5,1668.5L487.5,1667.5L488.5,1665.5L490.5,1664.5L491.5,1663.5L492.5,1662.5L493.5,1662.5L494.5,1662.5L495.5,1663.5L496.5,1666.5L497.5,1671.5L498.5,1673.5L499.5,1675.5L500.5,1676.5L502.5,1676.5L503.5,1676.5L504.5,1676.5L505.5,1675.5L506.5,1672.5L507.5,1669.5L508.5,1669.5L509.5,1670.5L510.5,1674.5L511.5,1675.5L512.5,1676.5L514.5,1675.5L515.5,1675.5L516.5,1675.5L517.5,1674.5L518.5,1673.5L519.5,1672.5L520.5,1665.5L521.5,1661.5L522.5,1657.5L523.5,1654.5L524.5,1651.5L525.5,1647.5L526.5,1641.5L527.5,1635.5L528.5,1629.5L529.5,1624.5L530.5,1620.5L531.5,1616.5L532.5,1612.5L533.5,1604.5L534.5,1596.5L536.5,1590.5L536.5,1586.5L538.5,1582.5L539.5,1579.5L540.5,1571.5L541.5,1568.5L542.5,1569.5L543.5,1570.5L544.5,1572.5L545.5,1575.5L546.5,1581.5L547.5,1588.5L548.5,1596.5L549.5,1604.5L550.5,1612.5L551.5,1620.5L552.5,1626.5L553.5,1629.5L554.5,1631.5L555.5,1633.5L556.5,1642.5L557.5,1648.5L558.5,1651.5L559.5,1653.5L561.5,1653.5L562.5,1652.5L563.5,1650.5L564.5,1647.5L565.5,1641.5L566.5,1636.5L567.5,1632.5L568.5,1630.5L569.5,1627.5L570.5,1625.5L571.5,1622.5L572.5,1620.5L573.5,1618.5L574.5,1615.5L575.5,1610.5L576.5,1603.5L577.5,1599.5L578.5,1600.5L579.5,1605.5L580.5,1608.5L581.5,1624.5L582.5,1632.5L583.5,1634.5L584.5,1636.5L586.5,1636.5L587.5,1636.5L588.5,1639.5L589.5,1652.5L590.5,1657.5L591.5,1659.5L592.5,1659.5L593.5,1658.5L594.5,1654.5L595.5,1641.5L596.5,1622.5L597.5,1611.5L598.5,1606.5L599.5,1600.5L600.5,1593.5L601.5,1578.5L602.5,1559.5L603.5,1550.5L604.5,1544.5L605.5,1533.5L606.5,1517.5L607.5,1499.5L608.5,1459.5L609.5,1443.5L610.5,1439.5L611.5,1426.5L612.5,1405.5L613.5,1399.5L614.5,1398.5L615.5,1396.5L617.5,1395.5L618.5,1394.5L619.5,1393.5L620.5,1393.5L621.5,1391.5L622.5,1387.5L623.5,1380.5L624.5,1374.5L625.5,1367.5L626.5,1361.5L627.5,1357.5L628.5,1356.5L629.5,1358.5L630.5,1368.5L631.5,1383.5L632.5,1395.5L633.5,1405.5L634.5,1413.5L636.5,1418.5L637.5,1418.5L638.5,1417.5L639.5,1418.5L640.5,1434.5L641.5,1461.5L642.5,1472.5L643.5,1478.5L644.5,1484.5L645.5,1493.5L646.5,1500.5L647.5,1502.5L648.5,1506.5L649.5,1513.5L650.5,1520.5L651.5,1524.5L652.5,1526.5L654.5,1527.5L655.5,1527.5L656.5,1528.5L657.5,1528.5L658.5,1528.5L659.5,1530.5L660.5,1532.5L661.5,1533.5L662.5,1534.5L663.5,1533.5L665.5,1533.5L666.5,1531.5L667.5,1526.5L668.5,1517.5L669.5,1508.5L670.5,1501.5L671.5,1492.5L672.5,1478.5L673.5,1462.5L674.5,1447.5L675.5,1434.5L676.5,1420.5L677.5,1404.5L678.5,1383.5L679.5,1361.5L680.5,1342.5L681.5,1324.5L682.5,1306.5L683.5,1287.5L684.5,1262.5L685.5,1252.5L686.5,1250.5L687.5,1252.5L688.5,1260.5L689.5,1268.5L690.5,1271.5L691.5,1275.5L692.5,1290.5L693.5,1304.5L694.5,1322.5L695.5,1348.5L696.5,1370.5L697.5,1385.5L698.5,1397.5L699.5,1411.5L700.5,1425.5L701.5,1444.5L702.5,1459.5L703.5,1469.5L704.5,1480.5L705.5,1492.5L706.5,1505.5L707.5,1518.5L708.5,1535.5L709.5,1547.5L710.5,1557.5L711.5,1564.5L712.5,1573.5L713.5,1584.5L714.5,1596.5L715.5,1609.5L716.5,1621.5L717.5,1633.5L718.5,1646.5L720.5,1657.5L721.5,1667.5L722.5,1676.5L723.5,1687.5L724.5,1701.5L725.5,1714.5L726.5,1724.5L727.5,1733.5L728.5,1742.5L729.5,1752.5L730.5,1761.5L731.5,1766.5L732.5,1767.5L733.5,1768.5L734.5,1771.5L735.5,1779.5L736.5,1786.5L737.5,1791.5L738.5,1791.5L739.5,1790.5L740.5,1787.5L741.5,1785.5L742.5,1783.5L744.5,1782.5L745.5,1784.5L744.5,1786.5L743.5,1786.5L743.5,1787.5L742.5,1787.5L742.5,1788.5L743.5,1790.5L744.5,1791.5L746.5,1791.5L747.5,1791.5L748.5,1791.5L750.5,1792.5L751.5,1792.5L752.5,1792.5L753.5,1792.5L754.5,1792.5L755.5,1792.5L756.5,1792.5L757.5,1792.5L758.5,1792.5L759.5,1792.5L761.5,1792.5L762.5,1792.5L763.5,1792.5L764.5,1792.5L765.5,1792.5L766.5,1792.5L767.5,1792.5L768.5,1792.5L769.5,1792.5L770.5,1792.5L771.5,1792.5L773.5,1792.5L774.5,1792.5L775.5,1792.5L776.5,1792.5L777.5,1792.5L778.5,1792.5L780.5,1792.5L781.5,1792.5L782.5,1792.5L783.5,1792.5L784.5,1792.5L786.5,1792.5L787.5,1792.5L788.5,1792.5L789.5,1792.5L790.5,1792.5L792.5,1792.5L793.5,1792.5L794.5,1792.5L795.5,1792.5L797.5,1792.5L798.5,1792.5L799.5,1792.5L800.5,1792.5L802.5,1792.5L803.5,1792.5L804.5,1792.5L805.5,1792.5L806.5,1792.5L808.5,1792.5L809.5,1792.5L810.5,1792.5L811.5,1792.5L812.5,1792.5L813.5,1792.5L815.5,1792.5L816.5,1792.5L817.5,1792.5L818.5,1792.5L819.5,1792.5L820.5,1792.5L821.5,1792.5L822.5,1792.5L823.5,1792.5L824.5,1792.5L826.5,1792.5L827.5,1792.5L828.5,1792.5L829.5,1792.5L830.5,1792.5L831.5,1792.5L832.5,1792.5L833.5,1792.5L834.5,1792.5L836.5,1792.5L837.5,1792.5L838.5,1792.5L839.5,1792.5L841.5,1791.5L842.5,1791.5L843.5,1791.5L845.5,1791.5L846.5,1791.5L847.5,1790.5L847.5,1787.5L846.5,1786.5L845.5,1785.5L846.5,1782.5L848.5,1780.5L849.5,1778.5L850.5,1777.5L851.5,1776.5L852.5,1776.5L853.5,1775.5L854.5,1775.5L856.5,1775.5L857.5,1775.5L858.5,1775.5L859.5,1774.5L860.5,1774.5L861.5,1773.5L862.5,1771.5L863.5,1770.5L864.5,1768.5L865.5,1764.5L866.5,1761.5L867.5,1760.5L869.5,1760.5L870.5,1759.5L871.5,1758.5L872.5,1758.5L873.5,1757.5L874.5,1755.5L875.5,1754.5L876.5,1752.5L877.5,1750.5L878.5,1747.5L880.5,1744.5L881.5,1738.5L882.5,1733.5L883.5,1731.5L884.5,1731.5L885.5,1730.5L886.5,1728.5L887.5,1727.5L888.5,1727.5L889.5,1729.5L890.5,1733.5L891.5,1744.5L892.5,1745.5L893.5,1745.5L894.5,1744.5L896.5,1744.5L897.5,1744.5L898.5,1743.5L899.5,1742.5L900.5,1740.5L901.5,1739.5L902.5,1737.5L903.5,1735.5L904.5,1734.5L905.5,1732.5L906.5,1730.5L907.5,1727.5L908.5,1724.5L910.5,1722.5L911.5,1721.5L912.5,1721.5L913.5,1720.5L914.5,1721.5L915.5,1721.5L916.5,1722.5L918.5,1722.5L919.5,1722.5L920.5,1721.5L921.5,1721.5L922.5,1722.5L923.5,1723.5L924.5,1724.5L925.5,1726.5L926.5,1729.5L927.5,1732.5L928.5,1735.5L929.5,1737.5L930.5,1739.5L931.5,1742.5L932.5,1747.5L933.5,1750.5L935.5,1752.5L936.5,1753.5L937.5,1754.5L938.5,1755.5L939.5,1755.5L940.5,1755.5L941.5,1755.5L942.5,1755.5L943.5,1755.5L944.5,1756.5L945.5,1758.5L946.5,1759.5L947.5,1760.5L948.5,1760.5L950.5,1760.5L951.5,1760.5L952.5,1760.5L953.5,1760.5L954.5,1760.5L955.5,1759.5L956.5,1759.5L957.5,1759.5L958.5,1758.5L960.5,1759.5L961.5,1759.5L962.5,1760.5L963.5,1760.5L964.5,1760.5L965.5,1760.5L966.5,1760.5L967.5,1759.5L968.5,1758.5L970.5,1758.5L971.5,1757.5L972.5,1756.5L973.5,1756.5L974.5,1755.5L975.5,1755.5L976.5,1755.5L977.5,1754.5L978.5,1752.5L979.5,1749.5L980.5,1746.5L981.5,1743.5L982.5,1740.5L983.5,1737.5L985.5,1733.5L986.5,1730.5L987.5,1727.5L988.5,1723.5L989.5,1719.5L990.5,1715.5L991.5,1710.5L992.5,1706.5L993.5,1700.5L994.5,1694.5L995.5,1692.5L996.5,1692.5L997.5,1693.5L998.5,1698.5L999.5,1706.5L1000.5,1709.5L1001.5,1711.5L1002.5,1712.5L1003.5,1714.5L1005.5,1715.5L1006.5,1715.5L1007.5,1716.5L1008.5,1715.5L1009.5,1716.5L1010.5,1720.5L1011.5,1723.5L1012.5,1725.5L1013.5,1726.5L1014.5,1728.5L1016.5,1728.5L1017.5,1729.5L1018.5,1729.5L1019.5,1730.5L1020.5,1730.5L1021.5,1730.5L1022.5,1731.5L1023.5,1731.5L1024.5,1732.5L1026.5,1732.5L1027.5,1733.5L1028.5,1734.5L1029.5,1735.5L1030.5,1735.5L1031.5,1736.5L1032.5,1736.5L1033.5,1736.5L1034.5,1736.5L1035.5,1737.5L1036.5,1737.5L1037.5,1738.5L1038.5,1738.5L1040.5,1738.5L1041.5,1739.5L1042.5,1739.5L1043.5,1740.5L1044.5,1740.5L1046.5,1740.5L1047.5,1741.5L1048.5,1741.5L1049.5,1740.5L1050.5,1740.5L1051.5,1740.5L1052.5,1741.5L1053.5,1741.5L1054.5,1743.5L1056.5,1743.5L1057.5,1743.5L1058.5,1742.5L1059.5,1741.5L1060.5,1741.5L1061.5,1741.5L1062.5,1742.5L1063.5,1742.5L1064.5,1742.5L1066.5,1743.5L1067.5,1744.5L1068.5,1745.5L1069.5,1746.5L1070.5,1746.5L1071.5,1746.5L1072.5,1745.5L1073.5,1744.5L1074.5,1742.5L1075.5,1740.5L1076.5,1738.5L1077.5,1736.5L1078.5,1734.5L1079.5,1732.5L1080.5,1730.5L1082.5,1728.5L1083.5,1725.5L1084.5,1719.5L1085.5,1709.5L1086.5,1706.5L1087.5,1704.5L1088.5,1701.5L1089.5,1697.5L1090.5,1692.5L1091.5,1686.5L1092.5,1680.5L1093.5,1673.5L1094.5,1666.5L1095.5,1653.5L1096.5,1650.5L1097.5,1650.5L1098.5,1649.5L1099.5,1648.5L1100.5,1645.5L1101.5,1642.5L1102.5,1638.5L1103.5,1636.5L1104.5,1634.5L1105.5,1634.5L1106.5,1644.5L1107.5,1667.5L1109.5,1673.5L1110.5,1673.5L1111.5,1670.5L1112.5,1658.5L1113.5,1625.5L1114.5,1618.5L1115.5,1617.5L1116.5,1616.5L1117.5,1606.5L1118.5,1602.5L1119.5,1603.5L1120.5,1606.5L1121.5,1617.5L1122.5,1636.5L1123.5,1656.5L1124.5,1676.5L1125.5,1690.5L1126.5,1701.5L1127.5,1711.5L1128.5,1721.5L1129.5,1730.5L1130.5,1736.5L1131.5,1740.5L1132.5,1742.5L1133.5,1743.5L1134.5,1744.5L1136.5,1745.5L1137.5,1745.5L1138.5,1744.5L1139.5,1744.5L1140.5,1743.5L1141.5,1743.5L1142.5,1742.5L1143.5,1742.5L1144.5,1742.5L1145.5,1742.5L1146.5,1742.5L1147.5,1741.5L1148.5,1741.5L1150.5,1741.5L1151.5,1741.5L1152.5,1741.5L1153.5,1740.5L1154.5,1740.5L1155.5,1740.5L1156.5,1740.5L1157.5,1739.5L1158.5,1739.5L1159.5,1739.5L1160.5,1739.5L1161.5,1739.5L1162.5,1739.5L1163.5,1739.5L1164.5,1739.5L1165.5,1739.5L1166.5,1739.5L1167.5,1739.5L1168.5,1739.5L1169.5,1739.5L1170.5,1738.5L1171.5,1738.5L1172.5,1738.5L1173.5,1738.5L1174.5,1738.5L1175.5,1738.5L1176.5,1738.5L1177.5,1738.5L1178.5,1738.5L1179.5,1738.5L1180.5,1737.5L1181.5,1737.5L1182.5,1737.5L1183.5,1737.5L1184.5,1737.5L1185.5,1737.5L1186.5,1737.5L1187.5,1737.5L1188.5,1737.5L1189.5,1737.5L1190.5,1737.5L1191.5,1737.5L1192.5,1736.5L1193.5,1736.5L1194.5,1736.5L1195.5,1736.5L1196.5,1736.5L1197.5,1736.5L1198.5,1736.5L1199.5,1736.5L1200.5,1736.5L1201.5,1736.5L1202.5,1736.5L1203.5,1736.5L1204.5,1736.5L1205.5,1735.5L1206.5,1735.5L1207.5,1735.5L1208.5,1735.5L1209.5,1735.5L1210.5,1735.5L1211.5,1735.5L1212.5,1735.5L1213.5,1735.5L1214.5,1735.5L1215.5,1735.5L1216.5,1735.5L1217.5,1735.5L1218.5,1735.5L1219.5,1735.5L1220.5,1734.5L1221.5,1734.5L1222.5,1734.5L1223.5,1734.5L1224.5,1734.5L1225.5,1734.5L1226.5,1734.5L1227.5,1733.5L1228.5,1733.5L1229.5,1733.5L1230.5,1733.5L1231.5,1733.5L1232.5,1733.5L1233.5,1733.5L1234.5,1733.5L1235.5,1732.5L1236.5,1732.5L1237.5,1732.5L1238.5,1732.5L1239.5,1732.5L1240.5,1732.5L1241.5,1732.5L1242.5,1732.5L1243.5,1731.5L1244.5,1731.5L1245.5,1731.5L1246.5,1731.5L1247.5,1731.5L1248.5,1731.5L1249.5,1731.5L1250.5,1730.5L1251.5,1730.5L1252.5,1730.5L1253.5,1730.5L1254.5,1730.5L1255.5,1729.5L1256.5,1729.5L1257.5,1729.5L1258.5,1729.5L1259.5,1729.5L1260.5,1728.5L1261.5,1728.5L1262.5,1728.5L1263.5,1728.5L1264.5,1728.5L1265.5,1727.5L1266.5,1727.5L1267.5,1727.5L1268.5,1727.5L1269.5,1727.5L1270.5,1726.5L1271.5,1726.5L1272.5,1726.5L1273.5,1726.5L1274.5,1726.5L1275.5,1725.5L1276.5,1725.5L1277.5,1725.5L1278.5,1725.5L1279.5,1725.5L1280.5,1724.5L1282.5,1724.5L1283.5,1724.5L1284.5,1723.5L1285.5,1723.5L1286.5,1723.5L1287.5,1722.5L1288.5,1722.5L1290.5,1722.5L1291.5,1721.5L1292.5,1721.5L1293.5,1720.5L1294.5,1720.5L1295.5,1719.5L1296.5,1719.5L1297.5,1718.5L1298.5,1718.5L1300.5,1718.5L1301.5,1717.5L1302.5,1717.5L1303.5,1716.5L1304.5,1716.5L1305.5,1716.5L1306.5,1715.5L1307.5,1715.5L1308.5,1714.5L1309.5,1714.5L1310.5,1714.5L1311.5,1713.5L1313.5,1713.5L1314.5,1712.5L1315.5,1712.5L1316.5,1711.5L1317.5,1711.5L1318.5,1710.5L1320.5,1710.5L1321.5,1709.5L1322.5,1709.5L1323.5,1708.5L1324.5,1708.5L1325.5,1707.5L1326.5,1707.5L1328.5,1706.5L1329.5,1706.5L1330.5,1705.5L1331.5,1705.5L1332.5,1704.5L1333.5,1704.5L1334.5,1703.5L1336.5,1702.5L1337.5,1702.5L1338.5,1701.5L1339.5,1701.5L1340.5,1700.5L1341.5,1700.5L1342.5,1699.5L1344.5,1698.5L1345.5,1698.5L1346.5,1697.5L1347.5,1697.5L1348.5,1696.5L1349.5,1696.5L1350.5,1695.5L1352.5,1695.5L1353.5,1694.5L1354.5,1693.5L1355.5,1693.5L1356.5,1692.5L1357.5,1692.5L1358.5,1691.5L1360.5,1690.5L1361.5,1690.5L1362.5,1689.5L1363.5,1688.5L1364.5,1688.5L1365.5,1687.5L1366.5,1686.5L1367.5,1686.5L1368.5,1685.5L1369.5,1684.5L1370.5,1684.5L1371.5,1683.5L1372.5,1682.5L1374.5,1682.5L1375.5,1681.5L1376.5,1680.5L1377.5,1680.5L1378.5,1679.5L1379.5,1679.5L1380.5,1678.5L1381.5,1677.5L1383.5,1677.5L1384.5,1676.5L1385.5,1676.5L1386.5,1675.5L1387.5,1674.5L1388.5,1674.5L1389.5,1673.5L1390.5,1672.5L1391.5,1672.5L1392.5,1671.5L1393.5,1670.5L1394.5,1670.5L1395.5,1669.5L1397.5,1668.5L1398.5,1667.5L1399.5,1665.5L1400.5,1664.5L1401.5,1663.5L1402.5,1662.5L1403.5,1661.5L1404.5,1660.5L1405.5,1659.5L1406.5,1657.5L1407.5,1655.5L1408.5,1652.5L1409.5,1648.5L1410.5,1645.5L1411.5,1641.5L1412.5,1638.5L1413.5,1635.5L1414.5,1631.5L1415.5,1628.5L1416.5,1625.5L1417.5,1622.5L1418.5,1620.5L1420.5,1618.5L1421.5,1617.5L1422.5,1616.5L1423.5,1617.5L1424.5,1617.5L1425.5,1618.5L1426.5,1618.5L1427.5,1618.5L1428.5,1618.5L1429.5,1618.5L1430.5,1617.5L1432.5,1616.5L1433.5,1615.5L1434.5,1614.5L1435.5,1613.5L1436.5,1610.5L1437.5,1606.5L1438.5,1605.5L1439.5,1604.5L1440.5,1603.5L1441.5,1602.5L1443.5,1602.5L1444.5,1601.5L1445.5,1601.5L1446.5,1601.5L1447.5,1601.5L1448.5,1599.5L1449.5,1597.5L1450.5,1594.5L1451.5,1591.5L1452.5,1588.5L1453.5,1586.5L1454.5,1584.5L1456.5,1583.5L1457.5,1583.5L1458.5,1583.5L1459.5,1583.5L1460.5,1582.5L1461.5,1582.5L1462.5,1582.5L1463.5,1582.5L1464.5,1582.5L1465.5,1580.5L1466.5,1578.5L1467.5,1574.5L1468.5,1570.5L1469.5,1564.5L1470.5,1560.5L1472.5,1559.5L1473.5,1559.5L1474.5,1559.5L1475.5,1560.5L1476.5,1560.5L1477.5,1561.5L1478.5,1562.5L1479.5,1564.5L1480.5,1568.5L1481.5,1573.5L1482.5,1577.5L1483.5,1581.5L1484.5,1584.5L1485.5,1586.5L1486.5,1587.5L1488.5,1588.5L1489.5,1589.5L1490.5,1592.5L1491.5,1595.5L1492.5,1597.5L1493.5,1599.5L1494.5,1600.5L1495.5,1601.5L1496.5,1602.5L1498.5,1602.5L1499.5,1603.5L1500.5,1603.5L1501.5,1604.5L1502.5,1604.5L1503.5,1604.5L1504.5,1604.5L1505.5,1604.5L1506.5,1604.5L1508.5,1604.5L1509.5,1603.5L1510.5,1603.5L1511.5,1602.5L1512.5,1601.5L1513.5,1601.5L1514.5,1600.5L1515.5,1600.5L1516.5,1599.5L1518.5,1599.5L1519.5,1598.5L1520.5,1597.5L1521.5,1597.5L1522.5,1596.5L1523.5,1595.5L1524.5,1594.5L1525.5,1593.5L1526.5,1592.5L1527.5,1590.5L1528.5,1589.5L1530.5,1588.5L1531.5,1586.5L1532.5,1585.5L1533.5,1584.5L1534.5,1583.5L1535.5,1583.5L1536.5,1582.5L1538.5,1582.5L1539.5,1581.5L1540.5,1581.5L1541.5,1581.5L1542.5,1581.5L1543.5,1581.5L1544.5,1581.5L1545.5,1581.5L1546.5,1581.5L1547.5,1581.5L1548.5,1581.5L1550.5,1581.5L1551.5,1581.5L1552.5,1581.5L1553.5,1581.5L1554.5,1581.5L1555.5,1581.5L1556.5,1581.5L1557.5,1581.5L1558.5,1581.5L1559.5,1580.5L1560.5,1580.5L1561.5,1580.5L1563.5,1580.5L1564.5,1579.5L1565.5,1579.5L1566.5,1578.5L1567.5,1578.5L1568.5,1577.5L1569.5,1576.5L1570.5,1575.5L1571.5,1575.5L1572.5,1574.5L1573.5,1573.5L1574.5,1573.5L1575.5,1572.5L1576.5,1571.5L1577.5,1570.5L1578.5,1570.5L1580.5,1569.5L1581.5,1568.5L1582.5,1567.5L1583.5,1565.5L1584.5,1564.5L1585.5,1563.5L1586.5,1562.5L1587.5,1561.5L1588.5,1559.5L1589.5,1558.5L1590.5,1556.5L1591.5,1555.5L1592.5,1554.5L1594.5,1552.5L1595.5,1551.5L1596.5,1549.5L1597.5,1548.5L1598.5,1546.5L1599.5,1545.5L1600.5,1543.5L1601.5,1542.5L1602.5,1540.5L1603.5,1538.5L1604.5,1536.5L1605.5,1535.5L1606.5,1533.5L1607.5,1532.5L1608.5,1530.5L1610.5,1529.5L1611.5,1527.5L1612.5,1526.5L1613.5,1524.5L1614.5,1523.5L1615.5,1522.5L1616.5,1521.5L1617.5,1520.5L1618.5,1519.5L1619.5,1517.5L1620.5,1516.5L1621.5,1515.5L1622.5,1514.5L1623.5,1513.5L1624.5,1512.5L1625.5,1510.5L1626.5,1509.5L1627.5,1508.5L1628.5,1507.5L1629.5,1506.5L1630.5,1505.5L1631.5,1504.5L1633.5,1503.5L1634.5,1502.5L1635.5,1501.5L1636.5,1500.5L1637.5,1499.5L1638.5,1498.5L1639.5,1497.5L1640.5,1496.5L1641.5,1495.5L1642.5,1493.5L1643.5,1492.5L1644.5,1491.5L1646.5,1490.5L1647.5,1488.5L1648.5,1487.5L1649.5,1486.5L1650.5,1484.5L1651.5,1483.5L1652.5,1482.5L1653.5,1480.5L1654.5,1479.5L1655.5,1478.5L1656.5,1477.5L1657.5,1477.5L1658.5,1476.5L1660.5,1475.5L1661.5,1475.5L1662.5,1475.5L1663.5,1475.5L1664.5,1475.5L1665.5,1475.5L1666.5,1476.5L1667.5,1476.5L1668.5,1477.5L1669.5,1478.5L1670.5,1479.5L1671.5,1480.5L1672.5,1481.5L1673.5,1483.5L1674.5,1484.5L1675.5,1486.5L1676.5,1487.5L1677.5,1489.5L1679.5,1491.5L1680.5,1493.5L1681.5,1495.5L1682.5,1497.5L1683.5,1500.5L1684.5,1502.5L1685.5,1504.5L1686.5,1506.5L1687.5,1508.5L1688.5,1509.5L1689.5,1511.5L1690.5,1513.5L1691.5,1515.5L1692.5,1516.5L1693.5,1518.5L1694.5,1520.5L1696.5,1521.5L1697.5,1523.5L1698.5,1524.5L1699.5,1525.5L1700.5,1527.5L1701.5,1528.5L1702.5,1529.5L1703.5,1530.5L1704.5,1531.5L1705.5,1531.5L1706.5,1532.5L1707.5,1533.5L1708.5,1534.5L1709.5,1534.5L1710.5,1535.5L1711.5,1536.5L1713.5,1536.5L1714.5,1537.5L1715.5,1538.5L1716.5,1539.5L1717.5,1540.5L1718.5,1541.5L1719.5,1542.5L1720.5,1543.5L1721.5,1544.5L1722.5,1544.5L1724.5,1545.5L1725.5,1546.5L1726.5,1546.5L1727.5,1547.5L1728.5,1548.5L1729.5,1548.5L1730.5,1549.5L1731.5,1550.5L1732.5,1550.5L1733.5,1551.5L1734.5,1552.5L1736.5,1553.5L1737.5,1554.5L1738.5,1555.5L1739.5,1556.5L1740.5,1557.5L1741.5,1558.5L1742.5,1559.5L1743.5,1560.5L1744.5,1560.5L1745.5,1561.5L1746.5,1562.5L1747.5,1562.5L1748.5,1563.5L1749.5,1564.5L1750.5,1565.5L1751.5,1566.5L1752.5,1567.5L1753.5,1567.5L1754.5,1568.5L1755.5,1569.5L1756.5,1570.5L1758.5,1571.5L1759.5,1571.5L1760.5,1572.5L1761.5,1572.5L1762.5,1573.5L1764.5,1574.5L1765.5,1575.5L1766.5,1577.5L1767.5,1579.5L1768.5,1579.5L1769.5,1580.5L1770.5,1581.5L1771.5,1581.5L1772.5,1582.5L1773.5,1583.5L1774.5,1584.5L1776.5,1584.5L1777.5,1585.5L1778.5,1586.5L1779.5,1587.5L1780.5,1588.5L1781.5,1589.5L1782.5,1590.5L1783.5,1591.5L1785.5,1592.5L1786.5,1593.5L1787.5,1594.5L1788.5,1595.5L1789.5,1596.5L1790.5,1597.5L1791.5,1599.5L1792.5,1600.5" fill="none" stroke="#000" stroke-width="7" stroke-linejoin="round" stroke-linecap="butt" shape-rendering="geometricPrecision"/>
<g stroke="#000" stroke-width="2" stroke-dasharray="7.3 6.264" fill="none" clip-path="url(#call)">
<line x1="446.0" y1="98.20" x2="446.0" y2="1782.5"/>
<line x1="537.9" y1="100.80" x2="537.9" y2="1782.5"/>
<line x1="621.9" y1="97.30" x2="621.9" y2="1782.5"/>
<line x1="681.0" y1="92.50" x2="692.2" y2="1782.5"/>
</g>
<g stroke="#000" stroke-width="5" fill="none" stroke-linecap="butt">
<rect x="247.5" y="103.5" width="1548.0" height="1679.0"/>
<line x1="247.5" y1="663.5" x2="1795.5" y2="663.5" stroke-width="5"/>
<line x1="247.5" y1="1223.0" x2="1795.5" y2="1223.0" stroke-width="6"/>
<line x1="306.5" y1="103.5" x2="306.5" y2="125.0"/>
<line x1="306.5" y1="1782.5" x2="306.5" y2="1760.0"/>
<line x1="306.5" y1="663.5" x2="306.5" y2="641.0"/>
<line x1="306.5" y1="1223.0" x2="306.5" y2="1200.5"/>
<line x1="604.5" y1="103.5" x2="604.5" y2="115.0"/>
<line x1="604.5" y1="1782.5" x2="604.5" y2="1771.0"/>
<line x1="604.5" y1="663.5" x2="604.5" y2="652.0"/>
<line x1="604.5" y1="1223.0" x2="604.5" y2="1211.5"/>
<line x1="902.5" y1="103.5" x2="902.5" y2="125.0"/>
<line x1="902.5" y1="1782.5" x2="902.5" y2="1760.0"/>
<line x1="902.5" y1="663.5" x2="902.5" y2="641.0"/>
<line x1="902.5" y1="1223.0" x2="902.5" y2="1200.5"/>
<line x1="1200.5" y1="103.5" x2="1200.5" y2="115.0"/>
<line x1="1200.5" y1="1782.5" x2="1200.5" y2="1771.0"/>
<line x1="1200.5" y1="663.5" x2="1200.5" y2="652.0"/>
<line x1="1200.5" y1="1223.0" x2="1200.5" y2="1211.5"/>
<line x1="1497.5" y1="103.5" x2="1497.5" y2="125.0"/>
<line x1="1497.5" y1="1782.5" x2="1497.5" y2="1760.0"/>
<line x1="1497.5" y1="663.5" x2="1497.5" y2="641.0"/>
<line x1="1497.5" y1="1223.0" x2="1497.5" y2="1200.5"/>
<line x1="247.5" y1="195.5" x2="259.0" y2="195.5"/>
<line x1="1795.5" y1="195.5" x2="1784.0" y2="195.5"/>
<line x1="247.5" y1="287.5" x2="269.0" y2="287.5"/>
<line x1="1795.5" y1="287.5" x2="1774.0" y2="287.5"/>
<line x1="247.5" y1="379.5" x2="259.0" y2="379.5"/>
<line x1="1795.5" y1="379.5" x2="1784.0" y2="379.5"/>
<line x1="247.5" y1="470.5" x2="269.0" y2="470.5"/>
<line x1="1795.5" y1="470.5" x2="1774.0" y2="470.5"/>
<line x1="247.5" y1="562.5" x2="259.0" y2="562.5"/>
<line x1="1795.5" y1="562.5" x2="1784.0" y2="562.5"/>
<line x1="247.5" y1="653.5" x2="269.0" y2="653.5"/>
<line x1="1795.5" y1="653.5" x2="1774.0" y2="653.5"/>
<line x1="247.5" y1="775.5" x2="269.0" y2="775.5"/>
<line x1="1795.5" y1="775.5" x2="1774.0" y2="775.5"/>
<line x1="247.5" y1="887.0" x2="259.0" y2="887.0"/>
<line x1="1795.5" y1="887.0" x2="1784.0" y2="887.0"/>
<line x1="247.5" y1="999.5" x2="269.0" y2="999.5"/>
<line x1="1795.5" y1="999.5" x2="1774.0" y2="999.5"/>
<line x1="247.5" y1="1110.5" x2="259.0" y2="1110.5"/>
<line x1="1795.5" y1="1110.5" x2="1784.0" y2="1110.5"/>
<line x1="247.5" y1="1349.5" x2="259.0" y2="1349.5"/>
<line x1="1795.5" y1="1349.5" x2="1784.0" y2="1349.5"/>
<line x1="247.5" y1="1477.0" x2="269.0" y2="1477.0"/>
<line x1="1795.5" y1="1477.0" x2="1774.0" y2="1477.0"/>
<line x1="247.5" y1="1604.5" x2="259.0" y2="1604.5"/>
<line x1="1795.5" y1="1604.5" x2="1784.0" y2="1604.5"/>
<line x1="247.5" y1="1731.5" x2="269.0" y2="1731.5"/>
<line x1="1795.5" y1="1731.5" x2="1774.0" y2="1731.5"/>
</g>
<text class="pl" x="1366.5" y="161.8" fill="#008000">STI</text>
<text class="pl" x="1176" y="715.3" fill="#ff0000">nonylphenol</text>
<text class="pl" x="1036.5" y="1292.6" fill="#000">STI-nonylphenol</text>
<g stroke="#ff0000" stroke-width="4" stroke-dasharray="13.58 13" fill="none">
<line x1="1420.0" y1="923.0" x2="1420.0" y2="1782.0"/>
<line x1="1456.0" y1="873.9" x2="1456.0" y2="1782.0"/>
<line x1="1473.0" y1="846.2" x2="1473.0" y2="1770.0"/>
</g>
<text class="ann" transform="translate(441.8 660.6) rotate(-90)" fill="#008000">1230 cm<tspan dy="-17" font-size="19.5px">-1</tspan></text>
<text class="ann" transform="translate(527.0 656.8) rotate(-90)" fill="#008000">1390 cm<tspan dy="-16.2" font-size="19.5px">-1</tspan></text>
<text class="ann" transform="translate(606.0 653.1) rotate(-90)" fill="#008000">1519 cm<tspan dy="-15.6" font-size="19.5px">-1</tspan></text>
<text class="ann" transform="translate(678.1 648.5) rotate(-90)" fill="#008000">1629 cm<tspan dy="-17" font-size="19.5px">-1</tspan></text>
<text class="ann" transform="translate(1411.0 1203.5) rotate(-90)" fill="#ff0000">2865 cm<tspan dy="-17" font-size="19.5px">-1</tspan></text>
<text class="ann" transform="translate(1458.0 1134.5) rotate(-90)" fill="#ff0000">2925 cm<tspan dy="-17" font-size="19.5px">-1</tspan></text>
<text class="ann" transform="translate(1508.0 1197.7) rotate(-90)" fill="#ff0000">2959 cm<tspan dy="-17" font-size="19.5px">-1</tspan></text>
<text transform="translate(223.3 122.1) scale(0.985 1.025)" font-size="58px" text-anchor="end">0.3</text>
<text transform="translate(223.3 306.0) scale(0.985 1.025)" font-size="58px" text-anchor="end">0.2</text>
<text transform="translate(223.3 488.8) scale(0.985 1.025)" font-size="58px" text-anchor="end">0.1</text>
<text transform="translate(223.3 672.3) scale(0.985 1.025)" font-size="58px" text-anchor="end">0.0</text>
<text transform="translate(223.3 794.0) scale(0.985 1.025)" font-size="58px" text-anchor="end">0.2</text>
<text transform="translate(223.3 1018.0) scale(0.985 1.025)" font-size="58px" text-anchor="end">0.1</text>
<text transform="translate(223.3 1241.9) scale(0.985 1.025)" font-size="58px" text-anchor="end">0.0</text>
<text transform="translate(227.8 1493.5) scale(0.985 1.025)" font-size="58px" text-anchor="end">0.05</text>
<text transform="translate(227.8 1790.6) scale(0.985 1.025)" font-size="58px" text-anchor="end">0.0</text>
<text transform="translate(306.9 68.3) scale(0.985 1.025)" font-size="58px" text-anchor="middle">1000</text>
<text transform="translate(306.9 1851.0) scale(0.985 1.025)" font-size="58px" text-anchor="middle">1000</text>
<text transform="translate(902.9 68.3) scale(0.985 1.025)" font-size="58px" text-anchor="middle">2000</text>
<text transform="translate(902.9 1851.0) scale(0.985 1.025)" font-size="58px" text-anchor="middle">2000</text>
<text transform="translate(1497.9 68.3) scale(0.985 1.025)" font-size="58px" text-anchor="middle">3000</text>
<text transform="translate(1497.9 1851.0) scale(0.985 1.025)" font-size="58px" text-anchor="middle">3000</text>
<text font-size="72.7px" x="696.3" y="2001.3">Wavenumbers (cm<tspan dy="-36" font-size="44px">-1</tspan><tspan dy="36">)</tspan></text>
<text font-size="73.4px" transform="translate(68.8 1031.8) rotate(-90)">Absorbance</text>
</svg></body></html>
